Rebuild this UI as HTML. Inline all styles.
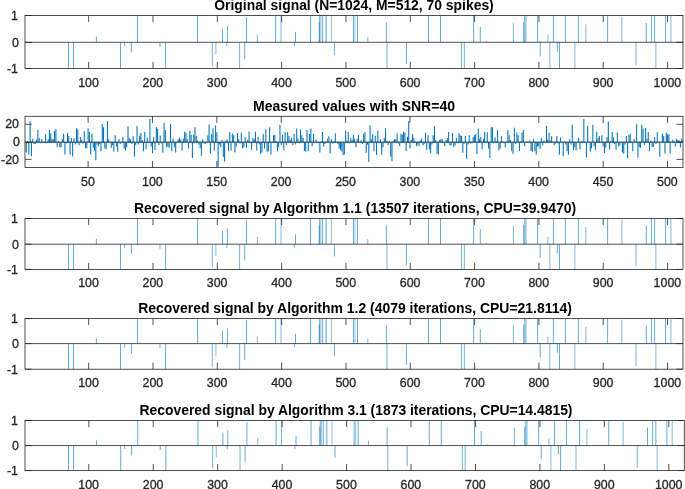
<!DOCTYPE html>
<html><head><meta charset="utf-8"><title>Signal recovery</title>
<style>
html,body{margin:0;padding:0;background:#fff;}
body{width:685px;height:489px;overflow:hidden;position:relative;font-family:"Liberation Sans",sans-serif;color:#262626;}
svg{position:absolute;left:0;top:0;}
.t,.x,.y{will-change:transform;}
.t{position:absolute;font-weight:bold;font-size:13.95px;line-height:16px;white-space:nowrap;color:#000;transform:translateX(-50%);}
.x{position:absolute;font-size:12.4px;line-height:14px;white-space:nowrap;transform:translate(-50%,-0.45px) scaleY(1.07);transform-origin:50% 100%;-webkit-text-stroke:0.3px #262626;}
.y{position:absolute;font-size:12.4px;line-height:14px;white-space:nowrap;text-align:right;width:30px;transform:scaleY(1.07);transform-origin:50% 50%;-webkit-text-stroke:0.3px #262626;}
</style></head><body>
<svg width="685" height="489" viewBox="0 0 685 489">
<g>
<line x1="68.50" y1="42.30" x2="68.50" y2="68.50" stroke="#0072BD" stroke-width="0.60"/>
<line x1="73.50" y1="42.30" x2="73.50" y2="68.50" stroke="#0072BD" stroke-width="0.60"/>
<line x1="96.40" y1="42.30" x2="96.40" y2="36.67" stroke="#0072BD" stroke-width="0.60"/>
<line x1="120.50" y1="42.30" x2="120.50" y2="68.50" stroke="#0072BD" stroke-width="0.60"/>
<line x1="124.50" y1="42.30" x2="124.50" y2="45.97" stroke="#0072BD" stroke-width="0.60"/>
<line x1="131.40" y1="42.30" x2="131.40" y2="52.52" stroke="#0072BD" stroke-width="0.60"/>
<line x1="137.50" y1="42.30" x2="137.50" y2="15.50" stroke="#0072BD" stroke-width="0.60"/>
<line x1="160.00" y1="42.30" x2="160.00" y2="47.02" stroke="#0072BD" stroke-width="0.60"/>
<line x1="165.60" y1="42.30" x2="165.60" y2="68.50" stroke="#0072BD" stroke-width="0.60"/>
<line x1="197.60" y1="42.30" x2="197.60" y2="15.50" stroke="#0072BD" stroke-width="0.60"/>
<line x1="212.30" y1="42.30" x2="212.30" y2="66.40" stroke="#0072BD" stroke-width="0.54"/>
<line x1="215.90" y1="42.30" x2="215.90" y2="54.74" stroke="#0072BD" stroke-width="0.48"/>
<line x1="222.50" y1="42.30" x2="222.50" y2="28.36" stroke="#0072BD" stroke-width="0.60"/>
<line x1="226.90" y1="42.30" x2="226.90" y2="46.23" stroke="#0072BD" stroke-width="0.57"/>
<line x1="227.40" y1="42.30" x2="227.40" y2="25.95" stroke="#0072BD" stroke-width="0.60"/>
<line x1="239.60" y1="42.30" x2="239.60" y2="68.50" stroke="#0072BD" stroke-width="0.54"/>
<line x1="244.70" y1="42.30" x2="244.70" y2="59.33" stroke="#0072BD" stroke-width="0.60"/>
<line x1="246.50" y1="42.30" x2="246.50" y2="17.11" stroke="#0072BD" stroke-width="0.60"/>
<line x1="257.30" y1="42.30" x2="257.30" y2="34.53" stroke="#0072BD" stroke-width="0.51"/>
<line x1="275.60" y1="42.30" x2="275.60" y2="15.50" stroke="#0072BD" stroke-width="0.60"/>
<line x1="281.00" y1="42.30" x2="281.00" y2="15.50" stroke="#0072BD" stroke-width="0.51"/>
<line x1="294.40" y1="42.30" x2="294.40" y2="45.97" stroke="#0072BD" stroke-width="0.60"/>
<line x1="295.50" y1="42.30" x2="295.50" y2="31.85" stroke="#0072BD" stroke-width="0.60"/>
<line x1="310.50" y1="42.30" x2="310.50" y2="15.50" stroke="#0072BD" stroke-width="0.60"/>
<line x1="319.20" y1="42.30" x2="319.20" y2="21.93" stroke="#0072BD" stroke-width="0.60"/>
<line x1="319.70" y1="42.30" x2="319.70" y2="15.50" stroke="#0072BD" stroke-width="0.60"/>
<line x1="320.90" y1="42.30" x2="320.90" y2="15.50" stroke="#0072BD" stroke-width="0.36"/>
<line x1="322.60" y1="42.30" x2="322.60" y2="15.50" stroke="#0072BD" stroke-width="0.60"/>
<line x1="325.70" y1="42.30" x2="325.70" y2="15.50" stroke="#0072BD" stroke-width="0.36"/>
<line x1="326.50" y1="42.30" x2="326.50" y2="15.50" stroke="#0072BD" stroke-width="0.36"/>
<line x1="331.40" y1="42.30" x2="331.40" y2="15.50" stroke="#0072BD" stroke-width="0.45"/>
<line x1="334.40" y1="42.30" x2="334.40" y2="55.14" stroke="#0072BD" stroke-width="0.60"/>
<line x1="353.50" y1="42.30" x2="353.50" y2="15.50" stroke="#0072BD" stroke-width="0.60"/>
<line x1="355.00" y1="42.30" x2="355.00" y2="15.50" stroke="#0072BD" stroke-width="0.42"/>
<line x1="357.50" y1="42.30" x2="357.50" y2="15.50" stroke="#0072BD" stroke-width="0.60"/>
<line x1="367.80" y1="42.30" x2="367.80" y2="36.94" stroke="#0072BD" stroke-width="0.51"/>
<line x1="386.40" y1="42.30" x2="386.40" y2="22.47" stroke="#0072BD" stroke-width="0.60"/>
<line x1="387.05" y1="42.30" x2="387.05" y2="68.50" stroke="#0072BD" stroke-width="0.54"/>
<line x1="406.40" y1="42.30" x2="406.40" y2="64.05" stroke="#0072BD" stroke-width="0.60"/>
<line x1="428.50" y1="42.30" x2="428.50" y2="15.50" stroke="#0072BD" stroke-width="0.60"/>
<line x1="440.50" y1="42.30" x2="440.50" y2="15.50" stroke="#0072BD" stroke-width="0.60"/>
<line x1="461.50" y1="42.30" x2="461.50" y2="68.50" stroke="#0072BD" stroke-width="0.54"/>
<line x1="464.30" y1="42.30" x2="464.30" y2="68.50" stroke="#0072BD" stroke-width="0.57"/>
<line x1="473.60" y1="42.30" x2="473.60" y2="15.50" stroke="#0072BD" stroke-width="0.60"/>
<line x1="480.30" y1="42.30" x2="480.30" y2="26.76" stroke="#0072BD" stroke-width="0.60"/>
<line x1="486.40" y1="42.30" x2="486.40" y2="40.96" stroke="#0072BD" stroke-width="0.60"/>
<line x1="513.40" y1="42.30" x2="513.40" y2="23.00" stroke="#0072BD" stroke-width="0.54"/>
<line x1="523.70" y1="42.30" x2="523.70" y2="21.93" stroke="#0072BD" stroke-width="0.60"/>
<line x1="524.80" y1="42.30" x2="524.80" y2="15.50" stroke="#0072BD" stroke-width="0.60"/>
<line x1="526.00" y1="42.30" x2="526.00" y2="15.50" stroke="#0072BD" stroke-width="0.51"/>
<line x1="537.60" y1="42.30" x2="537.60" y2="15.50" stroke="#0072BD" stroke-width="0.60"/>
<line x1="540.20" y1="42.30" x2="540.20" y2="56.45" stroke="#0072BD" stroke-width="0.60"/>
<line x1="547.90" y1="42.30" x2="547.90" y2="34.53" stroke="#0072BD" stroke-width="0.51"/>
<line x1="549.90" y1="42.30" x2="549.90" y2="68.50" stroke="#0072BD" stroke-width="0.51"/>
<line x1="553.40" y1="42.30" x2="553.40" y2="15.50" stroke="#0072BD" stroke-width="0.60"/>
<line x1="557.40" y1="42.30" x2="557.40" y2="51.73" stroke="#0072BD" stroke-width="0.60"/>
<line x1="559.50" y1="42.30" x2="559.50" y2="68.50" stroke="#0072BD" stroke-width="0.60"/>
<line x1="565.40" y1="42.30" x2="565.40" y2="15.50" stroke="#0072BD" stroke-width="0.60"/>
<line x1="574.90" y1="42.30" x2="574.90" y2="68.50" stroke="#0072BD" stroke-width="0.51"/>
<line x1="578.40" y1="42.30" x2="578.40" y2="15.50" stroke="#0072BD" stroke-width="0.60"/>
<line x1="585.80" y1="42.30" x2="585.80" y2="24.34" stroke="#0072BD" stroke-width="0.51"/>
<line x1="607.60" y1="42.30" x2="607.60" y2="15.50" stroke="#0072BD" stroke-width="0.60"/>
<line x1="621.90" y1="42.30" x2="621.90" y2="16.84" stroke="#0072BD" stroke-width="0.51"/>
<line x1="636.00" y1="42.30" x2="636.00" y2="65.36" stroke="#0072BD" stroke-width="0.54"/>
<line x1="646.30" y1="42.30" x2="646.30" y2="23.00" stroke="#0072BD" stroke-width="0.60"/>
<line x1="651.40" y1="42.30" x2="651.40" y2="15.50" stroke="#0072BD" stroke-width="0.60"/>
<line x1="654.60" y1="42.30" x2="654.60" y2="15.50" stroke="#0072BD" stroke-width="0.60"/>
<line x1="655.90" y1="42.30" x2="655.90" y2="68.50" stroke="#0072BD" stroke-width="0.51"/>
<line x1="665.60" y1="42.30" x2="665.60" y2="15.50" stroke="#0072BD" stroke-width="0.60"/>
<line x1="670.90" y1="42.30" x2="670.90" y2="15.50" stroke="#0072BD" stroke-width="0.51"/>
</g>
<g>
<line x1="68.50" y1="244.20" x2="68.50" y2="269.40" stroke="#0072BD" stroke-width="0.60"/>
<line x1="73.50" y1="244.20" x2="73.50" y2="269.40" stroke="#0072BD" stroke-width="0.60"/>
<line x1="96.40" y1="244.20" x2="96.40" y2="238.80" stroke="#0072BD" stroke-width="0.60"/>
<line x1="120.50" y1="244.20" x2="120.50" y2="269.40" stroke="#0072BD" stroke-width="0.60"/>
<line x1="124.50" y1="244.20" x2="124.50" y2="247.73" stroke="#0072BD" stroke-width="0.60"/>
<line x1="131.40" y1="244.20" x2="131.40" y2="254.03" stroke="#0072BD" stroke-width="0.60"/>
<line x1="137.50" y1="244.20" x2="137.50" y2="218.50" stroke="#0072BD" stroke-width="0.60"/>
<line x1="160.00" y1="244.20" x2="160.00" y2="248.74" stroke="#0072BD" stroke-width="0.60"/>
<line x1="165.60" y1="244.20" x2="165.60" y2="269.40" stroke="#0072BD" stroke-width="0.60"/>
<line x1="197.60" y1="244.20" x2="197.60" y2="218.50" stroke="#0072BD" stroke-width="0.60"/>
<line x1="212.30" y1="244.20" x2="212.30" y2="267.38" stroke="#0072BD" stroke-width="0.54"/>
<line x1="215.90" y1="244.20" x2="215.90" y2="256.17" stroke="#0072BD" stroke-width="0.48"/>
<line x1="222.50" y1="244.20" x2="222.50" y2="230.84" stroke="#0072BD" stroke-width="0.60"/>
<line x1="226.90" y1="244.20" x2="226.90" y2="247.98" stroke="#0072BD" stroke-width="0.57"/>
<line x1="227.40" y1="244.20" x2="227.40" y2="228.52" stroke="#0072BD" stroke-width="0.60"/>
<line x1="239.60" y1="244.20" x2="239.60" y2="269.40" stroke="#0072BD" stroke-width="0.54"/>
<line x1="244.70" y1="244.20" x2="244.70" y2="260.58" stroke="#0072BD" stroke-width="0.60"/>
<line x1="246.50" y1="244.20" x2="246.50" y2="220.04" stroke="#0072BD" stroke-width="0.60"/>
<line x1="257.30" y1="244.20" x2="257.30" y2="236.75" stroke="#0072BD" stroke-width="0.51"/>
<line x1="275.60" y1="244.20" x2="275.60" y2="218.50" stroke="#0072BD" stroke-width="0.60"/>
<line x1="281.00" y1="244.20" x2="281.00" y2="218.50" stroke="#0072BD" stroke-width="0.51"/>
<line x1="294.40" y1="244.20" x2="294.40" y2="247.73" stroke="#0072BD" stroke-width="0.60"/>
<line x1="295.50" y1="244.20" x2="295.50" y2="234.18" stroke="#0072BD" stroke-width="0.60"/>
<line x1="310.50" y1="244.20" x2="310.50" y2="218.50" stroke="#0072BD" stroke-width="0.60"/>
<line x1="319.20" y1="244.20" x2="319.20" y2="224.67" stroke="#0072BD" stroke-width="0.60"/>
<line x1="319.70" y1="244.20" x2="319.70" y2="218.50" stroke="#0072BD" stroke-width="0.60"/>
<line x1="320.90" y1="244.20" x2="320.90" y2="218.50" stroke="#0072BD" stroke-width="0.36"/>
<line x1="322.60" y1="244.20" x2="322.60" y2="218.50" stroke="#0072BD" stroke-width="0.60"/>
<line x1="325.70" y1="244.20" x2="325.70" y2="218.50" stroke="#0072BD" stroke-width="0.36"/>
<line x1="326.50" y1="244.20" x2="326.50" y2="218.50" stroke="#0072BD" stroke-width="0.36"/>
<line x1="331.40" y1="244.20" x2="331.40" y2="218.50" stroke="#0072BD" stroke-width="0.45"/>
<line x1="334.40" y1="244.20" x2="334.40" y2="256.55" stroke="#0072BD" stroke-width="0.60"/>
<line x1="353.50" y1="244.20" x2="353.50" y2="218.50" stroke="#0072BD" stroke-width="0.60"/>
<line x1="355.00" y1="244.20" x2="355.00" y2="218.50" stroke="#0072BD" stroke-width="0.42"/>
<line x1="357.50" y1="244.20" x2="357.50" y2="218.50" stroke="#0072BD" stroke-width="0.60"/>
<line x1="367.80" y1="244.20" x2="367.80" y2="239.06" stroke="#0072BD" stroke-width="0.51"/>
<line x1="386.40" y1="244.20" x2="386.40" y2="225.18" stroke="#0072BD" stroke-width="0.60"/>
<line x1="387.05" y1="244.20" x2="387.05" y2="269.40" stroke="#0072BD" stroke-width="0.54"/>
<line x1="406.40" y1="244.20" x2="406.40" y2="265.12" stroke="#0072BD" stroke-width="0.60"/>
<line x1="428.50" y1="244.20" x2="428.50" y2="218.50" stroke="#0072BD" stroke-width="0.60"/>
<line x1="440.50" y1="244.20" x2="440.50" y2="218.50" stroke="#0072BD" stroke-width="0.60"/>
<line x1="461.50" y1="244.20" x2="461.50" y2="269.40" stroke="#0072BD" stroke-width="0.54"/>
<line x1="464.30" y1="244.20" x2="464.30" y2="269.40" stroke="#0072BD" stroke-width="0.57"/>
<line x1="473.60" y1="244.20" x2="473.60" y2="218.50" stroke="#0072BD" stroke-width="0.60"/>
<line x1="480.30" y1="244.20" x2="480.30" y2="229.29" stroke="#0072BD" stroke-width="0.60"/>
<line x1="486.40" y1="244.20" x2="486.40" y2="242.91" stroke="#0072BD" stroke-width="0.60"/>
<line x1="513.40" y1="244.20" x2="513.40" y2="225.70" stroke="#0072BD" stroke-width="0.54"/>
<line x1="523.70" y1="244.20" x2="523.70" y2="224.67" stroke="#0072BD" stroke-width="0.60"/>
<line x1="524.80" y1="244.20" x2="524.80" y2="218.50" stroke="#0072BD" stroke-width="0.60"/>
<line x1="526.00" y1="244.20" x2="526.00" y2="218.50" stroke="#0072BD" stroke-width="0.51"/>
<line x1="537.60" y1="244.20" x2="537.60" y2="218.50" stroke="#0072BD" stroke-width="0.60"/>
<line x1="540.20" y1="244.20" x2="540.20" y2="257.81" stroke="#0072BD" stroke-width="0.60"/>
<line x1="547.90" y1="244.20" x2="547.90" y2="236.75" stroke="#0072BD" stroke-width="0.51"/>
<line x1="549.90" y1="244.20" x2="549.90" y2="269.40" stroke="#0072BD" stroke-width="0.51"/>
<line x1="553.40" y1="244.20" x2="553.40" y2="218.50" stroke="#0072BD" stroke-width="0.60"/>
<line x1="557.40" y1="244.20" x2="557.40" y2="253.27" stroke="#0072BD" stroke-width="0.60"/>
<line x1="559.50" y1="244.20" x2="559.50" y2="269.40" stroke="#0072BD" stroke-width="0.60"/>
<line x1="565.40" y1="244.20" x2="565.40" y2="218.50" stroke="#0072BD" stroke-width="0.60"/>
<line x1="574.90" y1="244.20" x2="574.90" y2="269.40" stroke="#0072BD" stroke-width="0.51"/>
<line x1="578.40" y1="244.20" x2="578.40" y2="218.50" stroke="#0072BD" stroke-width="0.60"/>
<line x1="585.80" y1="244.20" x2="585.80" y2="226.98" stroke="#0072BD" stroke-width="0.51"/>
<line x1="607.60" y1="244.20" x2="607.60" y2="218.50" stroke="#0072BD" stroke-width="0.60"/>
<line x1="621.90" y1="244.20" x2="621.90" y2="219.78" stroke="#0072BD" stroke-width="0.51"/>
<line x1="636.00" y1="244.20" x2="636.00" y2="266.38" stroke="#0072BD" stroke-width="0.54"/>
<line x1="646.30" y1="244.20" x2="646.30" y2="225.70" stroke="#0072BD" stroke-width="0.60"/>
<line x1="651.40" y1="244.20" x2="651.40" y2="218.50" stroke="#0072BD" stroke-width="0.60"/>
<line x1="654.60" y1="244.20" x2="654.60" y2="218.50" stroke="#0072BD" stroke-width="0.60"/>
<line x1="655.90" y1="244.20" x2="655.90" y2="269.40" stroke="#0072BD" stroke-width="0.51"/>
<line x1="665.60" y1="244.20" x2="665.60" y2="218.50" stroke="#0072BD" stroke-width="0.60"/>
<line x1="670.90" y1="244.20" x2="670.90" y2="218.50" stroke="#0072BD" stroke-width="0.51"/>
</g>
<g>
<line x1="68.50" y1="343.60" x2="68.50" y2="369.20" stroke="#0072BD" stroke-width="0.60"/>
<line x1="73.50" y1="343.60" x2="73.50" y2="369.20" stroke="#0072BD" stroke-width="0.60"/>
<line x1="96.40" y1="343.60" x2="96.40" y2="338.33" stroke="#0072BD" stroke-width="0.60"/>
<line x1="120.50" y1="343.60" x2="120.50" y2="369.20" stroke="#0072BD" stroke-width="0.60"/>
<line x1="124.50" y1="343.60" x2="124.50" y2="347.18" stroke="#0072BD" stroke-width="0.60"/>
<line x1="131.40" y1="343.60" x2="131.40" y2="353.58" stroke="#0072BD" stroke-width="0.60"/>
<line x1="137.50" y1="343.60" x2="137.50" y2="318.50" stroke="#0072BD" stroke-width="0.60"/>
<line x1="160.00" y1="343.60" x2="160.00" y2="348.21" stroke="#0072BD" stroke-width="0.60"/>
<line x1="165.60" y1="343.60" x2="165.60" y2="369.20" stroke="#0072BD" stroke-width="0.60"/>
<line x1="197.60" y1="343.60" x2="197.60" y2="318.50" stroke="#0072BD" stroke-width="0.60"/>
<line x1="212.30" y1="343.60" x2="212.30" y2="367.15" stroke="#0072BD" stroke-width="0.54"/>
<line x1="215.90" y1="343.60" x2="215.90" y2="355.76" stroke="#0072BD" stroke-width="0.48"/>
<line x1="222.50" y1="343.60" x2="222.50" y2="330.55" stroke="#0072BD" stroke-width="0.60"/>
<line x1="226.90" y1="343.60" x2="226.90" y2="347.44" stroke="#0072BD" stroke-width="0.57"/>
<line x1="227.40" y1="343.60" x2="227.40" y2="328.29" stroke="#0072BD" stroke-width="0.60"/>
<line x1="239.60" y1="343.60" x2="239.60" y2="369.20" stroke="#0072BD" stroke-width="0.54"/>
<line x1="244.70" y1="343.60" x2="244.70" y2="360.24" stroke="#0072BD" stroke-width="0.60"/>
<line x1="246.50" y1="343.60" x2="246.50" y2="320.01" stroke="#0072BD" stroke-width="0.60"/>
<line x1="257.30" y1="343.60" x2="257.30" y2="336.32" stroke="#0072BD" stroke-width="0.51"/>
<line x1="275.60" y1="343.60" x2="275.60" y2="318.50" stroke="#0072BD" stroke-width="0.60"/>
<line x1="281.00" y1="343.60" x2="281.00" y2="318.50" stroke="#0072BD" stroke-width="0.51"/>
<line x1="294.40" y1="343.60" x2="294.40" y2="347.18" stroke="#0072BD" stroke-width="0.60"/>
<line x1="295.50" y1="343.60" x2="295.50" y2="333.81" stroke="#0072BD" stroke-width="0.60"/>
<line x1="310.50" y1="343.60" x2="310.50" y2="318.50" stroke="#0072BD" stroke-width="0.60"/>
<line x1="319.20" y1="343.60" x2="319.20" y2="324.52" stroke="#0072BD" stroke-width="0.60"/>
<line x1="319.70" y1="343.60" x2="319.70" y2="318.50" stroke="#0072BD" stroke-width="0.60"/>
<line x1="320.90" y1="343.60" x2="320.90" y2="318.50" stroke="#0072BD" stroke-width="0.36"/>
<line x1="322.60" y1="343.60" x2="322.60" y2="318.50" stroke="#0072BD" stroke-width="0.60"/>
<line x1="325.70" y1="343.60" x2="325.70" y2="318.50" stroke="#0072BD" stroke-width="0.36"/>
<line x1="326.50" y1="343.60" x2="326.50" y2="318.50" stroke="#0072BD" stroke-width="0.36"/>
<line x1="331.40" y1="343.60" x2="331.40" y2="318.50" stroke="#0072BD" stroke-width="0.45"/>
<line x1="334.40" y1="343.60" x2="334.40" y2="356.14" stroke="#0072BD" stroke-width="0.60"/>
<line x1="353.50" y1="343.60" x2="353.50" y2="318.50" stroke="#0072BD" stroke-width="0.60"/>
<line x1="355.00" y1="343.60" x2="355.00" y2="318.50" stroke="#0072BD" stroke-width="0.42"/>
<line x1="357.50" y1="343.60" x2="357.50" y2="318.50" stroke="#0072BD" stroke-width="0.60"/>
<line x1="367.80" y1="343.60" x2="367.80" y2="338.58" stroke="#0072BD" stroke-width="0.51"/>
<line x1="386.40" y1="343.60" x2="386.40" y2="325.03" stroke="#0072BD" stroke-width="0.60"/>
<line x1="387.05" y1="343.60" x2="387.05" y2="369.20" stroke="#0072BD" stroke-width="0.54"/>
<line x1="406.40" y1="343.60" x2="406.40" y2="364.85" stroke="#0072BD" stroke-width="0.60"/>
<line x1="428.50" y1="343.60" x2="428.50" y2="318.50" stroke="#0072BD" stroke-width="0.60"/>
<line x1="440.50" y1="343.60" x2="440.50" y2="318.50" stroke="#0072BD" stroke-width="0.60"/>
<line x1="461.50" y1="343.60" x2="461.50" y2="369.20" stroke="#0072BD" stroke-width="0.54"/>
<line x1="464.30" y1="343.60" x2="464.30" y2="369.20" stroke="#0072BD" stroke-width="0.57"/>
<line x1="473.60" y1="343.60" x2="473.60" y2="318.50" stroke="#0072BD" stroke-width="0.60"/>
<line x1="480.30" y1="343.60" x2="480.30" y2="329.04" stroke="#0072BD" stroke-width="0.60"/>
<line x1="486.40" y1="343.60" x2="486.40" y2="342.35" stroke="#0072BD" stroke-width="0.60"/>
<line x1="513.40" y1="343.60" x2="513.40" y2="325.53" stroke="#0072BD" stroke-width="0.54"/>
<line x1="523.70" y1="343.60" x2="523.70" y2="324.52" stroke="#0072BD" stroke-width="0.60"/>
<line x1="524.80" y1="343.60" x2="524.80" y2="318.50" stroke="#0072BD" stroke-width="0.60"/>
<line x1="526.00" y1="343.60" x2="526.00" y2="318.50" stroke="#0072BD" stroke-width="0.51"/>
<line x1="537.60" y1="343.60" x2="537.60" y2="318.50" stroke="#0072BD" stroke-width="0.60"/>
<line x1="540.20" y1="343.60" x2="540.20" y2="357.42" stroke="#0072BD" stroke-width="0.60"/>
<line x1="547.90" y1="343.60" x2="547.90" y2="336.32" stroke="#0072BD" stroke-width="0.51"/>
<line x1="549.90" y1="343.60" x2="549.90" y2="369.20" stroke="#0072BD" stroke-width="0.51"/>
<line x1="553.40" y1="343.60" x2="553.40" y2="318.50" stroke="#0072BD" stroke-width="0.60"/>
<line x1="557.40" y1="343.60" x2="557.40" y2="352.82" stroke="#0072BD" stroke-width="0.60"/>
<line x1="559.50" y1="343.60" x2="559.50" y2="369.20" stroke="#0072BD" stroke-width="0.60"/>
<line x1="565.40" y1="343.60" x2="565.40" y2="318.50" stroke="#0072BD" stroke-width="0.60"/>
<line x1="574.90" y1="343.60" x2="574.90" y2="369.20" stroke="#0072BD" stroke-width="0.51"/>
<line x1="578.40" y1="343.60" x2="578.40" y2="318.50" stroke="#0072BD" stroke-width="0.60"/>
<line x1="585.80" y1="343.60" x2="585.80" y2="326.78" stroke="#0072BD" stroke-width="0.51"/>
<line x1="607.60" y1="343.60" x2="607.60" y2="318.50" stroke="#0072BD" stroke-width="0.60"/>
<line x1="621.90" y1="343.60" x2="621.90" y2="319.75" stroke="#0072BD" stroke-width="0.51"/>
<line x1="636.00" y1="343.60" x2="636.00" y2="366.13" stroke="#0072BD" stroke-width="0.54"/>
<line x1="646.30" y1="343.60" x2="646.30" y2="325.53" stroke="#0072BD" stroke-width="0.60"/>
<line x1="651.40" y1="343.60" x2="651.40" y2="318.50" stroke="#0072BD" stroke-width="0.60"/>
<line x1="654.60" y1="343.60" x2="654.60" y2="318.50" stroke="#0072BD" stroke-width="0.60"/>
<line x1="655.90" y1="343.60" x2="655.90" y2="369.20" stroke="#0072BD" stroke-width="0.51"/>
<line x1="665.60" y1="343.60" x2="665.60" y2="318.50" stroke="#0072BD" stroke-width="0.60"/>
<line x1="670.90" y1="343.60" x2="670.90" y2="318.50" stroke="#0072BD" stroke-width="0.51"/>
</g>
<g>
<line x1="68.59" y1="445.55" x2="68.59" y2="470.60" stroke="#0072BD" stroke-width="0.60"/>
<line x1="73.60" y1="445.55" x2="73.60" y2="470.60" stroke="#0072BD" stroke-width="0.60"/>
<line x1="96.54" y1="445.55" x2="96.54" y2="440.29" stroke="#0072BD" stroke-width="0.60"/>
<line x1="120.69" y1="445.55" x2="120.69" y2="470.60" stroke="#0072BD" stroke-width="0.60"/>
<line x1="124.70" y1="445.55" x2="124.70" y2="449.06" stroke="#0072BD" stroke-width="0.60"/>
<line x1="131.61" y1="445.55" x2="131.61" y2="455.32" stroke="#0072BD" stroke-width="0.60"/>
<line x1="137.72" y1="445.55" x2="137.72" y2="420.50" stroke="#0072BD" stroke-width="0.60"/>
<line x1="160.27" y1="445.55" x2="160.27" y2="450.06" stroke="#0072BD" stroke-width="0.60"/>
<line x1="165.88" y1="445.55" x2="165.88" y2="470.60" stroke="#0072BD" stroke-width="0.60"/>
<line x1="197.94" y1="445.55" x2="197.94" y2="420.50" stroke="#0072BD" stroke-width="0.60"/>
<line x1="212.67" y1="445.55" x2="212.67" y2="468.60" stroke="#0072BD" stroke-width="0.54"/>
<line x1="216.28" y1="445.55" x2="216.28" y2="457.45" stroke="#0072BD" stroke-width="0.48"/>
<line x1="222.89" y1="445.55" x2="222.89" y2="432.52" stroke="#0072BD" stroke-width="0.60"/>
<line x1="227.30" y1="445.55" x2="227.30" y2="449.31" stroke="#0072BD" stroke-width="0.57"/>
<line x1="227.80" y1="445.55" x2="227.80" y2="430.27" stroke="#0072BD" stroke-width="0.60"/>
<line x1="240.02" y1="445.55" x2="240.02" y2="470.60" stroke="#0072BD" stroke-width="0.54"/>
<line x1="245.13" y1="445.55" x2="245.13" y2="461.83" stroke="#0072BD" stroke-width="0.60"/>
<line x1="246.94" y1="445.55" x2="246.94" y2="422.00" stroke="#0072BD" stroke-width="0.60"/>
<line x1="257.76" y1="445.55" x2="257.76" y2="438.29" stroke="#0072BD" stroke-width="0.51"/>
<line x1="276.10" y1="445.55" x2="276.10" y2="420.50" stroke="#0072BD" stroke-width="0.60"/>
<line x1="281.51" y1="445.55" x2="281.51" y2="420.50" stroke="#0072BD" stroke-width="0.51"/>
<line x1="294.93" y1="445.55" x2="294.93" y2="449.06" stroke="#0072BD" stroke-width="0.60"/>
<line x1="296.03" y1="445.55" x2="296.03" y2="435.78" stroke="#0072BD" stroke-width="0.60"/>
<line x1="311.06" y1="445.55" x2="311.06" y2="420.50" stroke="#0072BD" stroke-width="0.60"/>
<line x1="319.78" y1="445.55" x2="319.78" y2="426.51" stroke="#0072BD" stroke-width="0.60"/>
<line x1="320.28" y1="445.55" x2="320.28" y2="420.50" stroke="#0072BD" stroke-width="0.60"/>
<line x1="321.48" y1="445.55" x2="321.48" y2="420.50" stroke="#0072BD" stroke-width="0.36"/>
<line x1="323.19" y1="445.55" x2="323.19" y2="420.50" stroke="#0072BD" stroke-width="0.60"/>
<line x1="326.29" y1="445.55" x2="326.29" y2="420.50" stroke="#0072BD" stroke-width="0.36"/>
<line x1="327.10" y1="445.55" x2="327.10" y2="420.50" stroke="#0072BD" stroke-width="0.36"/>
<line x1="332.01" y1="445.55" x2="332.01" y2="420.50" stroke="#0072BD" stroke-width="0.45"/>
<line x1="335.01" y1="445.55" x2="335.01" y2="457.82" stroke="#0072BD" stroke-width="0.60"/>
<line x1="354.15" y1="445.55" x2="354.15" y2="420.50" stroke="#0072BD" stroke-width="0.60"/>
<line x1="355.65" y1="445.55" x2="355.65" y2="420.50" stroke="#0072BD" stroke-width="0.42"/>
<line x1="358.16" y1="445.55" x2="358.16" y2="420.50" stroke="#0072BD" stroke-width="0.60"/>
<line x1="368.48" y1="445.55" x2="368.48" y2="440.54" stroke="#0072BD" stroke-width="0.51"/>
<line x1="387.11" y1="445.55" x2="387.11" y2="427.01" stroke="#0072BD" stroke-width="0.60"/>
<line x1="387.77" y1="445.55" x2="387.77" y2="470.60" stroke="#0072BD" stroke-width="0.54"/>
<line x1="407.15" y1="445.55" x2="407.15" y2="466.34" stroke="#0072BD" stroke-width="0.60"/>
<line x1="429.30" y1="445.55" x2="429.30" y2="420.50" stroke="#0072BD" stroke-width="0.60"/>
<line x1="441.32" y1="445.55" x2="441.32" y2="420.50" stroke="#0072BD" stroke-width="0.60"/>
<line x1="462.36" y1="445.55" x2="462.36" y2="470.60" stroke="#0072BD" stroke-width="0.54"/>
<line x1="465.17" y1="445.55" x2="465.17" y2="470.60" stroke="#0072BD" stroke-width="0.57"/>
<line x1="474.49" y1="445.55" x2="474.49" y2="420.50" stroke="#0072BD" stroke-width="0.60"/>
<line x1="481.20" y1="445.55" x2="481.20" y2="431.02" stroke="#0072BD" stroke-width="0.60"/>
<line x1="487.31" y1="445.55" x2="487.31" y2="444.30" stroke="#0072BD" stroke-width="0.60"/>
<line x1="514.36" y1="445.55" x2="514.36" y2="427.51" stroke="#0072BD" stroke-width="0.54"/>
<line x1="524.69" y1="445.55" x2="524.69" y2="426.51" stroke="#0072BD" stroke-width="0.60"/>
<line x1="525.79" y1="445.55" x2="525.79" y2="420.50" stroke="#0072BD" stroke-width="0.60"/>
<line x1="526.99" y1="445.55" x2="526.99" y2="420.50" stroke="#0072BD" stroke-width="0.51"/>
<line x1="538.61" y1="445.55" x2="538.61" y2="420.50" stroke="#0072BD" stroke-width="0.60"/>
<line x1="541.22" y1="445.55" x2="541.22" y2="459.08" stroke="#0072BD" stroke-width="0.60"/>
<line x1="548.93" y1="445.55" x2="548.93" y2="438.29" stroke="#0072BD" stroke-width="0.51"/>
<line x1="550.94" y1="445.55" x2="550.94" y2="470.60" stroke="#0072BD" stroke-width="0.51"/>
<line x1="554.44" y1="445.55" x2="554.44" y2="420.50" stroke="#0072BD" stroke-width="0.60"/>
<line x1="558.45" y1="445.55" x2="558.45" y2="454.57" stroke="#0072BD" stroke-width="0.60"/>
<line x1="560.56" y1="445.55" x2="560.56" y2="470.60" stroke="#0072BD" stroke-width="0.60"/>
<line x1="566.47" y1="445.55" x2="566.47" y2="420.50" stroke="#0072BD" stroke-width="0.60"/>
<line x1="575.99" y1="445.55" x2="575.99" y2="470.60" stroke="#0072BD" stroke-width="0.51"/>
<line x1="579.49" y1="445.55" x2="579.49" y2="420.50" stroke="#0072BD" stroke-width="0.60"/>
<line x1="586.91" y1="445.55" x2="586.91" y2="428.77" stroke="#0072BD" stroke-width="0.51"/>
<line x1="608.75" y1="445.55" x2="608.75" y2="420.50" stroke="#0072BD" stroke-width="0.60"/>
<line x1="623.08" y1="445.55" x2="623.08" y2="421.75" stroke="#0072BD" stroke-width="0.51"/>
<line x1="637.21" y1="445.55" x2="637.21" y2="467.59" stroke="#0072BD" stroke-width="0.54"/>
<line x1="647.53" y1="445.55" x2="647.53" y2="427.51" stroke="#0072BD" stroke-width="0.60"/>
<line x1="652.64" y1="445.55" x2="652.64" y2="420.50" stroke="#0072BD" stroke-width="0.60"/>
<line x1="655.84" y1="445.55" x2="655.84" y2="420.50" stroke="#0072BD" stroke-width="0.60"/>
<line x1="657.15" y1="445.55" x2="657.15" y2="470.60" stroke="#0072BD" stroke-width="0.51"/>
<line x1="666.87" y1="445.55" x2="666.87" y2="420.50" stroke="#0072BD" stroke-width="0.60"/>
<line x1="672.18" y1="445.55" x2="672.18" y2="420.50" stroke="#0072BD" stroke-width="0.51"/>
</g>
<g>
<line x1="25.00" y1="142.20" x2="683.00" y2="142.20" stroke="#262626" stroke-width="0.80"/>
<line x1="25.00" y1="142.20" x2="25.00" y2="142.69" stroke="#0072BD" stroke-width="1.05"/>
<line x1="26.29" y1="142.20" x2="26.29" y2="152.47" stroke="#0072BD" stroke-width="1.05"/>
<line x1="27.58" y1="142.20" x2="27.58" y2="140.88" stroke="#0072BD" stroke-width="1.05"/>
<line x1="28.86" y1="142.20" x2="28.86" y2="154.84" stroke="#0072BD" stroke-width="1.05"/>
<line x1="30.15" y1="142.20" x2="30.15" y2="121.14" stroke="#0072BD" stroke-width="1.05"/>
<line x1="31.44" y1="142.20" x2="31.44" y2="156.15" stroke="#0072BD" stroke-width="1.05"/>
<line x1="32.73" y1="142.20" x2="32.73" y2="138.69" stroke="#0072BD" stroke-width="1.05"/>
<line x1="34.01" y1="142.20" x2="34.01" y2="143.95" stroke="#0072BD" stroke-width="1.05"/>
<line x1="35.30" y1="142.20" x2="35.30" y2="143.95" stroke="#0072BD" stroke-width="1.05"/>
<line x1="36.59" y1="142.20" x2="36.59" y2="139.57" stroke="#0072BD" stroke-width="1.05"/>
<line x1="37.88" y1="142.20" x2="37.88" y2="130.09" stroke="#0072BD" stroke-width="1.05"/>
<line x1="39.16" y1="142.20" x2="39.16" y2="137.99" stroke="#0072BD" stroke-width="1.05"/>
<line x1="40.45" y1="142.20" x2="40.45" y2="143.18" stroke="#0072BD" stroke-width="1.05"/>
<line x1="41.74" y1="142.20" x2="41.74" y2="139.04" stroke="#0072BD" stroke-width="1.05"/>
<line x1="43.03" y1="142.20" x2="43.03" y2="143.25" stroke="#0072BD" stroke-width="1.05"/>
<line x1="44.32" y1="142.20" x2="44.32" y2="141.78" stroke="#0072BD" stroke-width="1.05"/>
<line x1="45.60" y1="142.20" x2="45.60" y2="134.30" stroke="#0072BD" stroke-width="1.05"/>
<line x1="46.89" y1="142.20" x2="46.89" y2="143.25" stroke="#0072BD" stroke-width="1.05"/>
<line x1="48.18" y1="142.20" x2="48.18" y2="139.30" stroke="#0072BD" stroke-width="1.05"/>
<line x1="49.47" y1="142.20" x2="49.47" y2="130.09" stroke="#0072BD" stroke-width="1.05"/>
<line x1="50.75" y1="142.20" x2="50.75" y2="133.42" stroke="#0072BD" stroke-width="1.05"/>
<line x1="52.04" y1="142.20" x2="52.04" y2="138.69" stroke="#0072BD" stroke-width="1.05"/>
<line x1="53.33" y1="142.20" x2="53.33" y2="139.30" stroke="#0072BD" stroke-width="1.05"/>
<line x1="54.62" y1="142.20" x2="54.62" y2="130.79" stroke="#0072BD" stroke-width="1.05"/>
<line x1="55.90" y1="142.20" x2="55.90" y2="129.21" stroke="#0072BD" stroke-width="1.05"/>
<line x1="57.19" y1="142.20" x2="57.19" y2="146.94" stroke="#0072BD" stroke-width="1.05"/>
<line x1="58.48" y1="142.20" x2="58.48" y2="141.32" stroke="#0072BD" stroke-width="1.05"/>
<line x1="59.77" y1="142.20" x2="59.77" y2="147.20" stroke="#0072BD" stroke-width="1.05"/>
<line x1="61.05" y1="142.20" x2="61.05" y2="147.20" stroke="#0072BD" stroke-width="1.05"/>
<line x1="62.34" y1="142.20" x2="62.34" y2="139.04" stroke="#0072BD" stroke-width="1.05"/>
<line x1="63.63" y1="142.20" x2="63.63" y2="133.78" stroke="#0072BD" stroke-width="1.05"/>
<line x1="64.92" y1="142.20" x2="64.92" y2="154.40" stroke="#0072BD" stroke-width="1.05"/>
<line x1="66.21" y1="142.20" x2="66.21" y2="143.40" stroke="#0072BD" stroke-width="1.05"/>
<line x1="67.49" y1="142.20" x2="67.49" y2="133.16" stroke="#0072BD" stroke-width="1.05"/>
<line x1="68.78" y1="142.20" x2="68.78" y2="136.06" stroke="#0072BD" stroke-width="1.05"/>
<line x1="70.07" y1="142.20" x2="70.07" y2="154.40" stroke="#0072BD" stroke-width="1.05"/>
<line x1="71.36" y1="142.20" x2="71.36" y2="137.99" stroke="#0072BD" stroke-width="1.05"/>
<line x1="72.64" y1="142.20" x2="72.64" y2="156.42" stroke="#0072BD" stroke-width="1.05"/>
<line x1="73.93" y1="142.20" x2="73.93" y2="137.99" stroke="#0072BD" stroke-width="1.05"/>
<line x1="75.22" y1="142.20" x2="75.22" y2="144.57" stroke="#0072BD" stroke-width="1.05"/>
<line x1="76.51" y1="142.20" x2="76.51" y2="128.16" stroke="#0072BD" stroke-width="1.05"/>
<line x1="77.79" y1="142.20" x2="77.79" y2="129.48" stroke="#0072BD" stroke-width="1.05"/>
<line x1="79.08" y1="142.20" x2="79.08" y2="145.18" stroke="#0072BD" stroke-width="1.05"/>
<line x1="80.37" y1="142.20" x2="80.37" y2="136.94" stroke="#0072BD" stroke-width="1.05"/>
<line x1="81.66" y1="142.20" x2="81.66" y2="139.74" stroke="#0072BD" stroke-width="1.05"/>
<line x1="82.95" y1="142.20" x2="82.95" y2="143.52" stroke="#0072BD" stroke-width="1.05"/>
<line x1="84.23" y1="142.20" x2="84.23" y2="131.06" stroke="#0072BD" stroke-width="1.05"/>
<line x1="85.52" y1="142.20" x2="85.52" y2="148.25" stroke="#0072BD" stroke-width="1.05"/>
<line x1="86.81" y1="142.20" x2="86.81" y2="148.25" stroke="#0072BD" stroke-width="1.05"/>
<line x1="88.10" y1="142.20" x2="88.10" y2="128.16" stroke="#0072BD" stroke-width="1.05"/>
<line x1="89.38" y1="142.20" x2="89.38" y2="132.11" stroke="#0072BD" stroke-width="1.05"/>
<line x1="90.67" y1="142.20" x2="90.67" y2="154.40" stroke="#0072BD" stroke-width="1.05"/>
<line x1="91.96" y1="142.20" x2="91.96" y2="133.42" stroke="#0072BD" stroke-width="1.05"/>
<line x1="93.25" y1="142.20" x2="93.25" y2="147.82" stroke="#0072BD" stroke-width="1.05"/>
<line x1="94.53" y1="142.20" x2="94.53" y2="150.45" stroke="#0072BD" stroke-width="1.05"/>
<line x1="95.82" y1="142.20" x2="95.82" y2="160.36" stroke="#0072BD" stroke-width="1.05"/>
<line x1="97.11" y1="142.20" x2="97.11" y2="144.57" stroke="#0072BD" stroke-width="1.05"/>
<line x1="98.40" y1="142.20" x2="98.40" y2="146.59" stroke="#0072BD" stroke-width="1.05"/>
<line x1="99.68" y1="142.20" x2="99.68" y2="143.95" stroke="#0072BD" stroke-width="1.05"/>
<line x1="100.97" y1="142.20" x2="100.97" y2="151.15" stroke="#0072BD" stroke-width="1.05"/>
<line x1="102.26" y1="142.20" x2="102.26" y2="123.95" stroke="#0072BD" stroke-width="1.05"/>
<line x1="103.55" y1="142.20" x2="103.55" y2="127.28" stroke="#0072BD" stroke-width="1.05"/>
<line x1="104.84" y1="142.20" x2="104.84" y2="148.52" stroke="#0072BD" stroke-width="1.05"/>
<line x1="106.12" y1="142.20" x2="106.12" y2="149.22" stroke="#0072BD" stroke-width="1.05"/>
<line x1="107.41" y1="142.20" x2="107.41" y2="120.96" stroke="#0072BD" stroke-width="1.05"/>
<line x1="108.70" y1="142.20" x2="108.70" y2="139.30" stroke="#0072BD" stroke-width="1.05"/>
<line x1="109.99" y1="142.20" x2="109.99" y2="142.10" stroke="#0072BD" stroke-width="1.05"/>
<line x1="111.27" y1="142.20" x2="111.27" y2="147.82" stroke="#0072BD" stroke-width="1.05"/>
<line x1="112.56" y1="142.20" x2="112.56" y2="145.18" stroke="#0072BD" stroke-width="1.05"/>
<line x1="113.85" y1="142.20" x2="113.85" y2="151.85" stroke="#0072BD" stroke-width="1.05"/>
<line x1="115.14" y1="142.20" x2="115.14" y2="135.36" stroke="#0072BD" stroke-width="1.05"/>
<line x1="116.42" y1="142.20" x2="116.42" y2="146.59" stroke="#0072BD" stroke-width="1.05"/>
<line x1="117.71" y1="142.20" x2="117.71" y2="151.85" stroke="#0072BD" stroke-width="1.05"/>
<line x1="119.00" y1="142.20" x2="119.00" y2="139.04" stroke="#0072BD" stroke-width="1.05"/>
<line x1="120.29" y1="142.20" x2="120.29" y2="143.95" stroke="#0072BD" stroke-width="1.05"/>
<line x1="121.58" y1="142.20" x2="121.58" y2="142.58" stroke="#0072BD" stroke-width="1.05"/>
<line x1="122.86" y1="142.20" x2="122.86" y2="136.94" stroke="#0072BD" stroke-width="1.05"/>
<line x1="124.15" y1="142.20" x2="124.15" y2="148.52" stroke="#0072BD" stroke-width="1.05"/>
<line x1="125.44" y1="142.20" x2="125.44" y2="150.45" stroke="#0072BD" stroke-width="1.05"/>
<line x1="126.73" y1="142.20" x2="126.73" y2="147.20" stroke="#0072BD" stroke-width="1.05"/>
<line x1="128.01" y1="142.20" x2="128.01" y2="126.14" stroke="#0072BD" stroke-width="1.05"/>
<line x1="129.30" y1="142.20" x2="129.30" y2="137.99" stroke="#0072BD" stroke-width="1.05"/>
<line x1="130.59" y1="142.20" x2="130.59" y2="139.30" stroke="#0072BD" stroke-width="1.05"/>
<line x1="131.88" y1="142.20" x2="131.88" y2="143.95" stroke="#0072BD" stroke-width="1.05"/>
<line x1="133.16" y1="142.20" x2="133.16" y2="136.32" stroke="#0072BD" stroke-width="1.05"/>
<line x1="134.45" y1="142.20" x2="134.45" y2="156.42" stroke="#0072BD" stroke-width="1.05"/>
<line x1="135.74" y1="142.20" x2="135.74" y2="145.18" stroke="#0072BD" stroke-width="1.05"/>
<line x1="137.03" y1="142.20" x2="137.03" y2="125.88" stroke="#0072BD" stroke-width="1.05"/>
<line x1="138.32" y1="142.20" x2="138.32" y2="144.57" stroke="#0072BD" stroke-width="1.05"/>
<line x1="139.60" y1="142.20" x2="139.60" y2="135.79" stroke="#0072BD" stroke-width="1.05"/>
<line x1="140.89" y1="142.20" x2="140.89" y2="132.99" stroke="#0072BD" stroke-width="1.05"/>
<line x1="142.18" y1="142.20" x2="142.18" y2="140.01" stroke="#0072BD" stroke-width="1.05"/>
<line x1="143.47" y1="142.20" x2="143.47" y2="151.15" stroke="#0072BD" stroke-width="1.05"/>
<line x1="144.75" y1="142.20" x2="144.75" y2="132.11" stroke="#0072BD" stroke-width="1.05"/>
<line x1="146.04" y1="142.20" x2="146.04" y2="149.22" stroke="#0072BD" stroke-width="1.05"/>
<line x1="147.33" y1="142.20" x2="147.33" y2="137.81" stroke="#0072BD" stroke-width="1.05"/>
<line x1="148.62" y1="142.20" x2="148.62" y2="143.25" stroke="#0072BD" stroke-width="1.05"/>
<line x1="149.90" y1="142.20" x2="149.90" y2="118.95" stroke="#0072BD" stroke-width="1.05"/>
<line x1="151.19" y1="142.20" x2="151.19" y2="146.59" stroke="#0072BD" stroke-width="1.05"/>
<line x1="152.48" y1="142.20" x2="152.48" y2="153.08" stroke="#0072BD" stroke-width="1.05"/>
<line x1="153.77" y1="142.20" x2="153.77" y2="136.94" stroke="#0072BD" stroke-width="1.05"/>
<line x1="155.05" y1="142.20" x2="155.05" y2="150.10" stroke="#0072BD" stroke-width="1.05"/>
<line x1="156.34" y1="142.20" x2="156.34" y2="127.11" stroke="#0072BD" stroke-width="1.05"/>
<line x1="157.63" y1="142.20" x2="157.63" y2="128.77" stroke="#0072BD" stroke-width="1.05"/>
<line x1="158.92" y1="142.20" x2="158.92" y2="145.18" stroke="#0072BD" stroke-width="1.05"/>
<line x1="160.21" y1="142.20" x2="160.21" y2="135.62" stroke="#0072BD" stroke-width="1.05"/>
<line x1="161.49" y1="142.20" x2="161.49" y2="143.44" stroke="#0072BD" stroke-width="1.05"/>
<line x1="162.78" y1="142.20" x2="162.78" y2="152.73" stroke="#0072BD" stroke-width="1.05"/>
<line x1="164.07" y1="142.20" x2="164.07" y2="122.63" stroke="#0072BD" stroke-width="1.05"/>
<line x1="165.36" y1="142.20" x2="165.36" y2="130.09" stroke="#0072BD" stroke-width="1.05"/>
<line x1="166.64" y1="142.20" x2="166.64" y2="147.20" stroke="#0072BD" stroke-width="1.05"/>
<line x1="167.93" y1="142.20" x2="167.93" y2="146.59" stroke="#0072BD" stroke-width="1.05"/>
<line x1="169.22" y1="142.20" x2="169.22" y2="147.82" stroke="#0072BD" stroke-width="1.05"/>
<line x1="170.51" y1="142.20" x2="170.51" y2="123.95" stroke="#0072BD" stroke-width="1.05"/>
<line x1="171.79" y1="142.20" x2="171.79" y2="151.15" stroke="#0072BD" stroke-width="1.05"/>
<line x1="173.08" y1="142.20" x2="173.08" y2="138.43" stroke="#0072BD" stroke-width="1.05"/>
<line x1="174.37" y1="142.20" x2="174.37" y2="147.20" stroke="#0072BD" stroke-width="1.05"/>
<line x1="175.66" y1="142.20" x2="175.66" y2="152.47" stroke="#0072BD" stroke-width="1.05"/>
<line x1="176.95" y1="142.20" x2="176.95" y2="142.18" stroke="#0072BD" stroke-width="1.05"/>
<line x1="178.23" y1="142.20" x2="178.23" y2="139.30" stroke="#0072BD" stroke-width="1.05"/>
<line x1="179.52" y1="142.20" x2="179.52" y2="137.64" stroke="#0072BD" stroke-width="1.05"/>
<line x1="180.81" y1="142.20" x2="180.81" y2="139.57" stroke="#0072BD" stroke-width="1.05"/>
<line x1="182.10" y1="142.20" x2="182.10" y2="150.45" stroke="#0072BD" stroke-width="1.05"/>
<line x1="183.38" y1="142.20" x2="183.38" y2="138.69" stroke="#0072BD" stroke-width="1.05"/>
<line x1="184.67" y1="142.20" x2="184.67" y2="131.67" stroke="#0072BD" stroke-width="1.05"/>
<line x1="185.96" y1="142.20" x2="185.96" y2="132.72" stroke="#0072BD" stroke-width="1.05"/>
<line x1="187.25" y1="142.20" x2="187.25" y2="138.69" stroke="#0072BD" stroke-width="1.05"/>
<line x1="188.53" y1="142.20" x2="188.53" y2="148.52" stroke="#0072BD" stroke-width="1.05"/>
<line x1="189.82" y1="142.20" x2="189.82" y2="131.06" stroke="#0072BD" stroke-width="1.05"/>
<line x1="191.11" y1="142.20" x2="191.11" y2="134.74" stroke="#0072BD" stroke-width="1.05"/>
<line x1="192.40" y1="142.20" x2="192.40" y2="158.08" stroke="#0072BD" stroke-width="1.05"/>
<line x1="193.68" y1="142.20" x2="193.68" y2="134.74" stroke="#0072BD" stroke-width="1.05"/>
<line x1="194.97" y1="142.20" x2="194.97" y2="127.28" stroke="#0072BD" stroke-width="1.05"/>
<line x1="196.26" y1="142.20" x2="196.26" y2="136.06" stroke="#0072BD" stroke-width="1.05"/>
<line x1="197.55" y1="142.20" x2="197.55" y2="140.44" stroke="#0072BD" stroke-width="1.05"/>
<line x1="198.84" y1="142.20" x2="198.84" y2="144.57" stroke="#0072BD" stroke-width="1.05"/>
<line x1="200.12" y1="142.20" x2="200.12" y2="148.25" stroke="#0072BD" stroke-width="1.05"/>
<line x1="201.41" y1="142.20" x2="201.41" y2="155.71" stroke="#0072BD" stroke-width="1.05"/>
<line x1="202.70" y1="142.20" x2="202.70" y2="139.30" stroke="#0072BD" stroke-width="1.05"/>
<line x1="203.99" y1="142.20" x2="203.99" y2="143.50" stroke="#0072BD" stroke-width="1.05"/>
<line x1="205.27" y1="142.20" x2="205.27" y2="143.95" stroke="#0072BD" stroke-width="1.05"/>
<line x1="206.56" y1="142.20" x2="206.56" y2="142.39" stroke="#0072BD" stroke-width="1.05"/>
<line x1="207.85" y1="142.20" x2="207.85" y2="135.36" stroke="#0072BD" stroke-width="1.05"/>
<line x1="209.14" y1="142.20" x2="209.14" y2="124.47" stroke="#0072BD" stroke-width="1.05"/>
<line x1="210.42" y1="142.20" x2="210.42" y2="153.52" stroke="#0072BD" stroke-width="1.05"/>
<line x1="211.71" y1="142.20" x2="211.71" y2="134.04" stroke="#0072BD" stroke-width="1.05"/>
<line x1="213.00" y1="142.20" x2="213.00" y2="128.16" stroke="#0072BD" stroke-width="1.05"/>
<line x1="214.29" y1="142.20" x2="214.29" y2="150.45" stroke="#0072BD" stroke-width="1.05"/>
<line x1="215.58" y1="142.20" x2="215.58" y2="125.53" stroke="#0072BD" stroke-width="1.05"/>
<line x1="216.86" y1="142.20" x2="216.86" y2="132.37" stroke="#0072BD" stroke-width="1.05"/>
<line x1="218.15" y1="142.20" x2="218.15" y2="166.77" stroke="#0072BD" stroke-width="1.05"/>
<line x1="219.44" y1="142.20" x2="219.44" y2="144.57" stroke="#0072BD" stroke-width="1.05"/>
<line x1="220.73" y1="142.20" x2="220.73" y2="147.20" stroke="#0072BD" stroke-width="1.05"/>
<line x1="222.01" y1="142.20" x2="222.01" y2="140.01" stroke="#0072BD" stroke-width="1.05"/>
<line x1="223.30" y1="142.20" x2="223.30" y2="157.03" stroke="#0072BD" stroke-width="1.05"/>
<line x1="224.59" y1="142.20" x2="224.59" y2="161.42" stroke="#0072BD" stroke-width="1.05"/>
<line x1="225.88" y1="142.20" x2="225.88" y2="140.62" stroke="#0072BD" stroke-width="1.05"/>
<line x1="227.16" y1="142.20" x2="227.16" y2="139.30" stroke="#0072BD" stroke-width="1.05"/>
<line x1="228.45" y1="142.20" x2="228.45" y2="151.15" stroke="#0072BD" stroke-width="1.05"/>
<line x1="229.74" y1="142.20" x2="229.74" y2="132.11" stroke="#0072BD" stroke-width="1.05"/>
<line x1="231.03" y1="142.20" x2="231.03" y2="150.45" stroke="#0072BD" stroke-width="1.05"/>
<line x1="232.32" y1="142.20" x2="232.32" y2="133.42" stroke="#0072BD" stroke-width="1.05"/>
<line x1="233.60" y1="142.20" x2="233.60" y2="135.36" stroke="#0072BD" stroke-width="1.05"/>
<line x1="234.89" y1="142.20" x2="234.89" y2="152.47" stroke="#0072BD" stroke-width="1.05"/>
<line x1="236.18" y1="142.20" x2="236.18" y2="146.59" stroke="#0072BD" stroke-width="1.05"/>
<line x1="237.47" y1="142.20" x2="237.47" y2="132.99" stroke="#0072BD" stroke-width="1.05"/>
<line x1="238.75" y1="142.20" x2="238.75" y2="139.04" stroke="#0072BD" stroke-width="1.05"/>
<line x1="240.04" y1="142.20" x2="240.04" y2="143.41" stroke="#0072BD" stroke-width="1.05"/>
<line x1="241.33" y1="142.20" x2="241.33" y2="132.72" stroke="#0072BD" stroke-width="1.05"/>
<line x1="242.62" y1="142.20" x2="242.62" y2="148.52" stroke="#0072BD" stroke-width="1.05"/>
<line x1="243.90" y1="142.20" x2="243.90" y2="147.20" stroke="#0072BD" stroke-width="1.05"/>
<line x1="245.19" y1="142.20" x2="245.19" y2="136.94" stroke="#0072BD" stroke-width="1.05"/>
<line x1="246.48" y1="142.20" x2="246.48" y2="147.82" stroke="#0072BD" stroke-width="1.05"/>
<line x1="247.77" y1="142.20" x2="247.77" y2="139.74" stroke="#0072BD" stroke-width="1.05"/>
<line x1="249.05" y1="142.20" x2="249.05" y2="131.41" stroke="#0072BD" stroke-width="1.05"/>
<line x1="250.34" y1="142.20" x2="250.34" y2="143.35" stroke="#0072BD" stroke-width="1.05"/>
<line x1="251.63" y1="142.20" x2="251.63" y2="149.83" stroke="#0072BD" stroke-width="1.05"/>
<line x1="252.92" y1="142.20" x2="252.92" y2="137.99" stroke="#0072BD" stroke-width="1.05"/>
<line x1="254.21" y1="142.20" x2="254.21" y2="138.69" stroke="#0072BD" stroke-width="1.05"/>
<line x1="255.49" y1="142.20" x2="255.49" y2="131.67" stroke="#0072BD" stroke-width="1.05"/>
<line x1="256.78" y1="142.20" x2="256.78" y2="150.45" stroke="#0072BD" stroke-width="1.05"/>
<line x1="258.07" y1="142.20" x2="258.07" y2="136.67" stroke="#0072BD" stroke-width="1.05"/>
<line x1="259.36" y1="142.20" x2="259.36" y2="144.57" stroke="#0072BD" stroke-width="1.05"/>
<line x1="260.64" y1="142.20" x2="260.64" y2="153.78" stroke="#0072BD" stroke-width="1.05"/>
<line x1="261.93" y1="142.20" x2="261.93" y2="152.47" stroke="#0072BD" stroke-width="1.05"/>
<line x1="263.22" y1="142.20" x2="263.22" y2="134.04" stroke="#0072BD" stroke-width="1.05"/>
<line x1="264.51" y1="142.20" x2="264.51" y2="148.52" stroke="#0072BD" stroke-width="1.05"/>
<line x1="265.79" y1="142.20" x2="265.79" y2="129.21" stroke="#0072BD" stroke-width="1.05"/>
<line x1="267.08" y1="142.20" x2="267.08" y2="151.85" stroke="#0072BD" stroke-width="1.05"/>
<line x1="268.37" y1="142.20" x2="268.37" y2="151.15" stroke="#0072BD" stroke-width="1.05"/>
<line x1="269.66" y1="142.20" x2="269.66" y2="127.28" stroke="#0072BD" stroke-width="1.05"/>
<line x1="270.95" y1="142.20" x2="270.95" y2="154.40" stroke="#0072BD" stroke-width="1.05"/>
<line x1="272.23" y1="142.20" x2="272.23" y2="142.41" stroke="#0072BD" stroke-width="1.05"/>
<line x1="273.52" y1="142.20" x2="273.52" y2="135.36" stroke="#0072BD" stroke-width="1.05"/>
<line x1="274.81" y1="142.20" x2="274.81" y2="134.74" stroke="#0072BD" stroke-width="1.05"/>
<line x1="276.10" y1="142.20" x2="276.10" y2="141.28" stroke="#0072BD" stroke-width="1.05"/>
<line x1="277.38" y1="142.20" x2="277.38" y2="151.15" stroke="#0072BD" stroke-width="1.05"/>
<line x1="278.67" y1="142.20" x2="278.67" y2="147.20" stroke="#0072BD" stroke-width="1.05"/>
<line x1="279.96" y1="142.20" x2="279.96" y2="124.83" stroke="#0072BD" stroke-width="1.05"/>
<line x1="281.25" y1="142.20" x2="281.25" y2="145.18" stroke="#0072BD" stroke-width="1.05"/>
<line x1="282.53" y1="142.20" x2="282.53" y2="135.00" stroke="#0072BD" stroke-width="1.05"/>
<line x1="283.82" y1="142.20" x2="283.82" y2="150.19" stroke="#0072BD" stroke-width="1.05"/>
<line x1="285.11" y1="142.20" x2="285.11" y2="132.11" stroke="#0072BD" stroke-width="1.05"/>
<line x1="286.40" y1="142.20" x2="286.40" y2="145.18" stroke="#0072BD" stroke-width="1.05"/>
<line x1="287.68" y1="142.20" x2="287.68" y2="132.37" stroke="#0072BD" stroke-width="1.05"/>
<line x1="288.97" y1="142.20" x2="288.97" y2="136.06" stroke="#0072BD" stroke-width="1.05"/>
<line x1="290.26" y1="142.20" x2="290.26" y2="140.01" stroke="#0072BD" stroke-width="1.05"/>
<line x1="291.55" y1="142.20" x2="291.55" y2="137.99" stroke="#0072BD" stroke-width="1.05"/>
<line x1="292.84" y1="142.20" x2="292.84" y2="145.18" stroke="#0072BD" stroke-width="1.05"/>
<line x1="294.12" y1="142.20" x2="294.12" y2="133.69" stroke="#0072BD" stroke-width="1.05"/>
<line x1="295.41" y1="142.20" x2="295.41" y2="144.57" stroke="#0072BD" stroke-width="1.05"/>
<line x1="296.70" y1="142.20" x2="296.70" y2="128.42" stroke="#0072BD" stroke-width="1.05"/>
<line x1="297.99" y1="142.20" x2="297.99" y2="138.69" stroke="#0072BD" stroke-width="1.05"/>
<line x1="299.27" y1="142.20" x2="299.27" y2="143.25" stroke="#0072BD" stroke-width="1.05"/>
<line x1="300.56" y1="142.20" x2="300.56" y2="129.74" stroke="#0072BD" stroke-width="1.05"/>
<line x1="301.85" y1="142.20" x2="301.85" y2="135.36" stroke="#0072BD" stroke-width="1.05"/>
<line x1="303.14" y1="142.20" x2="303.14" y2="137.99" stroke="#0072BD" stroke-width="1.05"/>
<line x1="304.42" y1="142.20" x2="304.42" y2="150.89" stroke="#0072BD" stroke-width="1.05"/>
<line x1="305.71" y1="142.20" x2="305.71" y2="151.50" stroke="#0072BD" stroke-width="1.05"/>
<line x1="307.00" y1="142.20" x2="307.00" y2="129.91" stroke="#0072BD" stroke-width="1.05"/>
<line x1="308.29" y1="142.20" x2="308.29" y2="151.15" stroke="#0072BD" stroke-width="1.05"/>
<line x1="309.58" y1="142.20" x2="309.58" y2="134.04" stroke="#0072BD" stroke-width="1.05"/>
<line x1="310.86" y1="142.20" x2="310.86" y2="128.51" stroke="#0072BD" stroke-width="1.05"/>
<line x1="312.15" y1="142.20" x2="312.15" y2="146.15" stroke="#0072BD" stroke-width="1.05"/>
<line x1="313.44" y1="142.20" x2="313.44" y2="133.78" stroke="#0072BD" stroke-width="1.05"/>
<line x1="314.73" y1="142.20" x2="314.73" y2="143.25" stroke="#0072BD" stroke-width="1.05"/>
<line x1="316.01" y1="142.20" x2="316.01" y2="139.57" stroke="#0072BD" stroke-width="1.05"/>
<line x1="317.30" y1="142.20" x2="317.30" y2="143.26" stroke="#0072BD" stroke-width="1.05"/>
<line x1="318.59" y1="142.20" x2="318.59" y2="142.98" stroke="#0072BD" stroke-width="1.05"/>
<line x1="319.88" y1="142.20" x2="319.88" y2="152.47" stroke="#0072BD" stroke-width="1.05"/>
<line x1="321.16" y1="142.20" x2="321.16" y2="141.32" stroke="#0072BD" stroke-width="1.05"/>
<line x1="322.45" y1="142.20" x2="322.45" y2="132.11" stroke="#0072BD" stroke-width="1.05"/>
<line x1="323.74" y1="142.20" x2="323.74" y2="146.59" stroke="#0072BD" stroke-width="1.05"/>
<line x1="325.03" y1="142.20" x2="325.03" y2="143.95" stroke="#0072BD" stroke-width="1.05"/>
<line x1="326.32" y1="142.20" x2="326.32" y2="141.84" stroke="#0072BD" stroke-width="1.05"/>
<line x1="327.60" y1="142.20" x2="327.60" y2="138.69" stroke="#0072BD" stroke-width="1.05"/>
<line x1="328.89" y1="142.20" x2="328.89" y2="136.32" stroke="#0072BD" stroke-width="1.05"/>
<line x1="330.18" y1="142.20" x2="330.18" y2="153.52" stroke="#0072BD" stroke-width="1.05"/>
<line x1="331.47" y1="142.20" x2="331.47" y2="139.30" stroke="#0072BD" stroke-width="1.05"/>
<line x1="332.75" y1="142.20" x2="332.75" y2="143.52" stroke="#0072BD" stroke-width="1.05"/>
<line x1="334.04" y1="142.20" x2="334.04" y2="140.94" stroke="#0072BD" stroke-width="1.05"/>
<line x1="335.33" y1="142.20" x2="335.33" y2="133.16" stroke="#0072BD" stroke-width="1.05"/>
<line x1="336.62" y1="142.20" x2="336.62" y2="141.98" stroke="#0072BD" stroke-width="1.05"/>
<line x1="337.90" y1="142.20" x2="337.90" y2="143.95" stroke="#0072BD" stroke-width="1.05"/>
<line x1="339.19" y1="142.20" x2="339.19" y2="148.52" stroke="#0072BD" stroke-width="1.05"/>
<line x1="340.48" y1="142.20" x2="340.48" y2="149.83" stroke="#0072BD" stroke-width="1.05"/>
<line x1="341.77" y1="142.20" x2="341.77" y2="151.15" stroke="#0072BD" stroke-width="1.05"/>
<line x1="343.05" y1="142.20" x2="343.05" y2="155.10" stroke="#0072BD" stroke-width="1.05"/>
<line x1="344.34" y1="142.20" x2="344.34" y2="154.40" stroke="#0072BD" stroke-width="1.05"/>
<line x1="345.63" y1="142.20" x2="345.63" y2="130.79" stroke="#0072BD" stroke-width="1.05"/>
<line x1="346.92" y1="142.20" x2="346.92" y2="140.62" stroke="#0072BD" stroke-width="1.05"/>
<line x1="348.21" y1="142.20" x2="348.21" y2="132.11" stroke="#0072BD" stroke-width="1.05"/>
<line x1="349.49" y1="142.20" x2="349.49" y2="143.52" stroke="#0072BD" stroke-width="1.05"/>
<line x1="350.78" y1="142.20" x2="350.78" y2="137.81" stroke="#0072BD" stroke-width="1.05"/>
<line x1="352.07" y1="142.20" x2="352.07" y2="140.01" stroke="#0072BD" stroke-width="1.05"/>
<line x1="353.36" y1="142.20" x2="353.36" y2="135.00" stroke="#0072BD" stroke-width="1.05"/>
<line x1="354.64" y1="142.20" x2="354.64" y2="138.69" stroke="#0072BD" stroke-width="1.05"/>
<line x1="355.93" y1="142.20" x2="355.93" y2="147.20" stroke="#0072BD" stroke-width="1.05"/>
<line x1="357.22" y1="142.20" x2="357.22" y2="138.69" stroke="#0072BD" stroke-width="1.05"/>
<line x1="358.51" y1="142.20" x2="358.51" y2="134.74" stroke="#0072BD" stroke-width="1.05"/>
<line x1="359.79" y1="142.20" x2="359.79" y2="142.49" stroke="#0072BD" stroke-width="1.05"/>
<line x1="361.08" y1="142.20" x2="361.08" y2="140.01" stroke="#0072BD" stroke-width="1.05"/>
<line x1="362.37" y1="142.20" x2="362.37" y2="143.95" stroke="#0072BD" stroke-width="1.05"/>
<line x1="363.66" y1="142.20" x2="363.66" y2="133.78" stroke="#0072BD" stroke-width="1.05"/>
<line x1="364.95" y1="142.20" x2="364.95" y2="132.11" stroke="#0072BD" stroke-width="1.05"/>
<line x1="366.23" y1="142.20" x2="366.23" y2="152.73" stroke="#0072BD" stroke-width="1.05"/>
<line x1="367.52" y1="142.20" x2="367.52" y2="144.57" stroke="#0072BD" stroke-width="1.05"/>
<line x1="368.81" y1="142.20" x2="368.81" y2="162.03" stroke="#0072BD" stroke-width="1.05"/>
<line x1="370.10" y1="142.20" x2="370.10" y2="125.53" stroke="#0072BD" stroke-width="1.05"/>
<line x1="371.38" y1="142.20" x2="371.38" y2="139.30" stroke="#0072BD" stroke-width="1.05"/>
<line x1="372.67" y1="142.20" x2="372.67" y2="134.30" stroke="#0072BD" stroke-width="1.05"/>
<line x1="373.96" y1="142.20" x2="373.96" y2="151.15" stroke="#0072BD" stroke-width="1.05"/>
<line x1="375.25" y1="142.20" x2="375.25" y2="135.79" stroke="#0072BD" stroke-width="1.05"/>
<line x1="376.53" y1="142.20" x2="376.53" y2="155.10" stroke="#0072BD" stroke-width="1.05"/>
<line x1="377.82" y1="142.20" x2="377.82" y2="130.53" stroke="#0072BD" stroke-width="1.05"/>
<line x1="379.11" y1="142.20" x2="379.11" y2="143.25" stroke="#0072BD" stroke-width="1.05"/>
<line x1="380.40" y1="142.20" x2="380.40" y2="139.04" stroke="#0072BD" stroke-width="1.05"/>
<line x1="381.68" y1="142.20" x2="381.68" y2="154.40" stroke="#0072BD" stroke-width="1.05"/>
<line x1="382.97" y1="142.20" x2="382.97" y2="147.20" stroke="#0072BD" stroke-width="1.05"/>
<line x1="384.26" y1="142.20" x2="384.26" y2="137.99" stroke="#0072BD" stroke-width="1.05"/>
<line x1="385.55" y1="142.20" x2="385.55" y2="128.42" stroke="#0072BD" stroke-width="1.05"/>
<line x1="386.84" y1="142.20" x2="386.84" y2="140.86" stroke="#0072BD" stroke-width="1.05"/>
<line x1="388.12" y1="142.20" x2="388.12" y2="145.18" stroke="#0072BD" stroke-width="1.05"/>
<line x1="389.41" y1="142.20" x2="389.41" y2="140.88" stroke="#0072BD" stroke-width="1.05"/>
<line x1="390.70" y1="142.20" x2="390.70" y2="156.42" stroke="#0072BD" stroke-width="1.05"/>
<line x1="391.99" y1="142.20" x2="391.99" y2="161.42" stroke="#0072BD" stroke-width="1.05"/>
<line x1="393.27" y1="142.20" x2="393.27" y2="140.62" stroke="#0072BD" stroke-width="1.05"/>
<line x1="394.56" y1="142.20" x2="394.56" y2="139.30" stroke="#0072BD" stroke-width="1.05"/>
<line x1="395.85" y1="142.20" x2="395.85" y2="138.95" stroke="#0072BD" stroke-width="1.05"/>
<line x1="397.14" y1="142.20" x2="397.14" y2="133.42" stroke="#0072BD" stroke-width="1.05"/>
<line x1="398.42" y1="142.20" x2="398.42" y2="143.47" stroke="#0072BD" stroke-width="1.05"/>
<line x1="399.71" y1="142.20" x2="399.71" y2="146.15" stroke="#0072BD" stroke-width="1.05"/>
<line x1="401.00" y1="142.20" x2="401.00" y2="133.78" stroke="#0072BD" stroke-width="1.05"/>
<line x1="402.29" y1="142.20" x2="402.29" y2="134.74" stroke="#0072BD" stroke-width="1.05"/>
<line x1="403.58" y1="142.20" x2="403.58" y2="131.85" stroke="#0072BD" stroke-width="1.05"/>
<line x1="404.86" y1="142.20" x2="404.86" y2="132.72" stroke="#0072BD" stroke-width="1.05"/>
<line x1="406.15" y1="142.20" x2="406.15" y2="150.89" stroke="#0072BD" stroke-width="1.05"/>
<line x1="407.44" y1="142.20" x2="407.44" y2="136.67" stroke="#0072BD" stroke-width="1.05"/>
<line x1="408.73" y1="142.20" x2="408.73" y2="121.14" stroke="#0072BD" stroke-width="1.05"/>
<line x1="410.01" y1="142.20" x2="410.01" y2="148.52" stroke="#0072BD" stroke-width="1.05"/>
<line x1="411.30" y1="142.20" x2="411.30" y2="140.01" stroke="#0072BD" stroke-width="1.05"/>
<line x1="412.59" y1="142.20" x2="412.59" y2="134.04" stroke="#0072BD" stroke-width="1.05"/>
<line x1="413.88" y1="142.20" x2="413.88" y2="137.99" stroke="#0072BD" stroke-width="1.05"/>
<line x1="415.16" y1="142.20" x2="415.16" y2="141.19" stroke="#0072BD" stroke-width="1.05"/>
<line x1="416.45" y1="142.20" x2="416.45" y2="146.15" stroke="#0072BD" stroke-width="1.05"/>
<line x1="417.74" y1="142.20" x2="417.74" y2="144.57" stroke="#0072BD" stroke-width="1.05"/>
<line x1="419.03" y1="142.20" x2="419.03" y2="146.15" stroke="#0072BD" stroke-width="1.05"/>
<line x1="420.32" y1="142.20" x2="420.32" y2="140.44" stroke="#0072BD" stroke-width="1.05"/>
<line x1="421.60" y1="142.20" x2="421.60" y2="138.69" stroke="#0072BD" stroke-width="1.05"/>
<line x1="422.89" y1="142.20" x2="422.89" y2="145.18" stroke="#0072BD" stroke-width="1.05"/>
<line x1="424.18" y1="142.20" x2="424.18" y2="143.95" stroke="#0072BD" stroke-width="1.05"/>
<line x1="425.47" y1="142.20" x2="425.47" y2="132.72" stroke="#0072BD" stroke-width="1.05"/>
<line x1="426.75" y1="142.20" x2="426.75" y2="149.83" stroke="#0072BD" stroke-width="1.05"/>
<line x1="428.04" y1="142.20" x2="428.04" y2="135.36" stroke="#0072BD" stroke-width="1.05"/>
<line x1="429.33" y1="142.20" x2="429.33" y2="149.22" stroke="#0072BD" stroke-width="1.05"/>
<line x1="430.62" y1="142.20" x2="430.62" y2="153.08" stroke="#0072BD" stroke-width="1.05"/>
<line x1="431.90" y1="142.20" x2="431.90" y2="144.57" stroke="#0072BD" stroke-width="1.05"/>
<line x1="433.19" y1="142.20" x2="433.19" y2="135.18" stroke="#0072BD" stroke-width="1.05"/>
<line x1="434.48" y1="142.20" x2="434.48" y2="126.14" stroke="#0072BD" stroke-width="1.05"/>
<line x1="435.77" y1="142.20" x2="435.77" y2="140.01" stroke="#0072BD" stroke-width="1.05"/>
<line x1="437.05" y1="142.20" x2="437.05" y2="153.78" stroke="#0072BD" stroke-width="1.05"/>
<line x1="438.34" y1="142.20" x2="438.34" y2="154.40" stroke="#0072BD" stroke-width="1.05"/>
<line x1="439.63" y1="142.20" x2="439.63" y2="140.01" stroke="#0072BD" stroke-width="1.05"/>
<line x1="440.92" y1="142.20" x2="440.92" y2="139.30" stroke="#0072BD" stroke-width="1.05"/>
<line x1="442.21" y1="142.20" x2="442.21" y2="138.95" stroke="#0072BD" stroke-width="1.05"/>
<line x1="443.49" y1="142.20" x2="443.49" y2="142.79" stroke="#0072BD" stroke-width="1.05"/>
<line x1="444.78" y1="142.20" x2="444.78" y2="146.15" stroke="#0072BD" stroke-width="1.05"/>
<line x1="446.07" y1="142.20" x2="446.07" y2="140.01" stroke="#0072BD" stroke-width="1.05"/>
<line x1="447.36" y1="142.20" x2="447.36" y2="137.99" stroke="#0072BD" stroke-width="1.05"/>
<line x1="448.64" y1="142.20" x2="448.64" y2="132.11" stroke="#0072BD" stroke-width="1.05"/>
<line x1="449.93" y1="142.20" x2="449.93" y2="145.62" stroke="#0072BD" stroke-width="1.05"/>
<line x1="451.22" y1="142.20" x2="451.22" y2="145.18" stroke="#0072BD" stroke-width="1.05"/>
<line x1="452.51" y1="142.20" x2="452.51" y2="132.72" stroke="#0072BD" stroke-width="1.05"/>
<line x1="453.79" y1="142.20" x2="453.79" y2="147.20" stroke="#0072BD" stroke-width="1.05"/>
<line x1="455.08" y1="142.20" x2="455.08" y2="145.62" stroke="#0072BD" stroke-width="1.05"/>
<line x1="456.37" y1="142.20" x2="456.37" y2="137.99" stroke="#0072BD" stroke-width="1.05"/>
<line x1="457.66" y1="142.20" x2="457.66" y2="143.25" stroke="#0072BD" stroke-width="1.05"/>
<line x1="458.95" y1="142.20" x2="458.95" y2="133.16" stroke="#0072BD" stroke-width="1.05"/>
<line x1="460.23" y1="142.20" x2="460.23" y2="135.18" stroke="#0072BD" stroke-width="1.05"/>
<line x1="461.52" y1="142.20" x2="461.52" y2="136.06" stroke="#0072BD" stroke-width="1.05"/>
<line x1="462.81" y1="142.20" x2="462.81" y2="152.82" stroke="#0072BD" stroke-width="1.05"/>
<line x1="464.10" y1="142.20" x2="464.10" y2="143.95" stroke="#0072BD" stroke-width="1.05"/>
<line x1="465.38" y1="142.20" x2="465.38" y2="136.06" stroke="#0072BD" stroke-width="1.05"/>
<line x1="466.67" y1="142.20" x2="466.67" y2="158.78" stroke="#0072BD" stroke-width="1.05"/>
<line x1="467.96" y1="142.20" x2="467.96" y2="144.57" stroke="#0072BD" stroke-width="1.05"/>
<line x1="469.25" y1="142.20" x2="469.25" y2="135.00" stroke="#0072BD" stroke-width="1.05"/>
<line x1="470.53" y1="142.20" x2="470.53" y2="143.52" stroke="#0072BD" stroke-width="1.05"/>
<line x1="471.82" y1="142.20" x2="471.82" y2="143.25" stroke="#0072BD" stroke-width="1.05"/>
<line x1="473.11" y1="142.20" x2="473.11" y2="137.37" stroke="#0072BD" stroke-width="1.05"/>
<line x1="474.40" y1="142.20" x2="474.40" y2="135.18" stroke="#0072BD" stroke-width="1.05"/>
<line x1="475.68" y1="142.20" x2="475.68" y2="134.04" stroke="#0072BD" stroke-width="1.05"/>
<line x1="476.97" y1="142.20" x2="476.97" y2="154.05" stroke="#0072BD" stroke-width="1.05"/>
<line x1="478.26" y1="142.20" x2="478.26" y2="128.77" stroke="#0072BD" stroke-width="1.05"/>
<line x1="479.55" y1="142.20" x2="479.55" y2="138.69" stroke="#0072BD" stroke-width="1.05"/>
<line x1="480.84" y1="142.20" x2="480.84" y2="136.94" stroke="#0072BD" stroke-width="1.05"/>
<line x1="482.12" y1="142.20" x2="482.12" y2="149.57" stroke="#0072BD" stroke-width="1.05"/>
<line x1="483.41" y1="142.20" x2="483.41" y2="138.95" stroke="#0072BD" stroke-width="1.05"/>
<line x1="484.70" y1="142.20" x2="484.70" y2="132.11" stroke="#0072BD" stroke-width="1.05"/>
<line x1="485.99" y1="142.20" x2="485.99" y2="141.32" stroke="#0072BD" stroke-width="1.05"/>
<line x1="487.27" y1="142.20" x2="487.27" y2="132.37" stroke="#0072BD" stroke-width="1.05"/>
<line x1="488.56" y1="142.20" x2="488.56" y2="148.52" stroke="#0072BD" stroke-width="1.05"/>
<line x1="489.85" y1="142.20" x2="489.85" y2="158.08" stroke="#0072BD" stroke-width="1.05"/>
<line x1="491.14" y1="142.20" x2="491.14" y2="127.28" stroke="#0072BD" stroke-width="1.05"/>
<line x1="492.42" y1="142.20" x2="492.42" y2="127.28" stroke="#0072BD" stroke-width="1.05"/>
<line x1="493.71" y1="142.20" x2="493.71" y2="143.20" stroke="#0072BD" stroke-width="1.05"/>
<line x1="495.00" y1="142.20" x2="495.00" y2="137.37" stroke="#0072BD" stroke-width="1.05"/>
<line x1="496.29" y1="142.20" x2="496.29" y2="141.32" stroke="#0072BD" stroke-width="1.05"/>
<line x1="497.58" y1="142.20" x2="497.58" y2="129.91" stroke="#0072BD" stroke-width="1.05"/>
<line x1="498.86" y1="142.20" x2="498.86" y2="150.19" stroke="#0072BD" stroke-width="1.05"/>
<line x1="500.15" y1="142.20" x2="500.15" y2="148.52" stroke="#0072BD" stroke-width="1.05"/>
<line x1="501.44" y1="142.20" x2="501.44" y2="136.32" stroke="#0072BD" stroke-width="1.05"/>
<line x1="502.73" y1="142.20" x2="502.73" y2="141.32" stroke="#0072BD" stroke-width="1.05"/>
<line x1="504.01" y1="142.20" x2="504.01" y2="143.27" stroke="#0072BD" stroke-width="1.05"/>
<line x1="505.30" y1="142.20" x2="505.30" y2="147.46" stroke="#0072BD" stroke-width="1.05"/>
<line x1="506.59" y1="142.20" x2="506.59" y2="142.74" stroke="#0072BD" stroke-width="1.05"/>
<line x1="507.88" y1="142.20" x2="507.88" y2="130.09" stroke="#0072BD" stroke-width="1.05"/>
<line x1="509.16" y1="142.20" x2="509.16" y2="135.36" stroke="#0072BD" stroke-width="1.05"/>
<line x1="510.45" y1="142.20" x2="510.45" y2="140.01" stroke="#0072BD" stroke-width="1.05"/>
<line x1="511.74" y1="142.20" x2="511.74" y2="151.15" stroke="#0072BD" stroke-width="1.05"/>
<line x1="513.03" y1="142.20" x2="513.03" y2="153.78" stroke="#0072BD" stroke-width="1.05"/>
<line x1="514.32" y1="142.20" x2="514.32" y2="127.72" stroke="#0072BD" stroke-width="1.05"/>
<line x1="515.60" y1="142.20" x2="515.60" y2="143.95" stroke="#0072BD" stroke-width="1.05"/>
<line x1="516.89" y1="142.20" x2="516.89" y2="132.55" stroke="#0072BD" stroke-width="1.05"/>
<line x1="518.18" y1="142.20" x2="518.18" y2="135.36" stroke="#0072BD" stroke-width="1.05"/>
<line x1="519.47" y1="142.20" x2="519.47" y2="150.89" stroke="#0072BD" stroke-width="1.05"/>
<line x1="520.75" y1="142.20" x2="520.75" y2="141.31" stroke="#0072BD" stroke-width="1.05"/>
<line x1="522.04" y1="142.20" x2="522.04" y2="132.55" stroke="#0072BD" stroke-width="1.05"/>
<line x1="523.33" y1="142.20" x2="523.33" y2="130.09" stroke="#0072BD" stroke-width="1.05"/>
<line x1="524.62" y1="142.20" x2="524.62" y2="146.15" stroke="#0072BD" stroke-width="1.05"/>
<line x1="525.90" y1="142.20" x2="525.90" y2="143.10" stroke="#0072BD" stroke-width="1.05"/>
<line x1="527.19" y1="142.20" x2="527.19" y2="141.97" stroke="#0072BD" stroke-width="1.05"/>
<line x1="528.48" y1="142.20" x2="528.48" y2="141.81" stroke="#0072BD" stroke-width="1.05"/>
<line x1="529.77" y1="142.20" x2="529.77" y2="140.62" stroke="#0072BD" stroke-width="1.05"/>
<line x1="531.05" y1="142.20" x2="531.05" y2="150.89" stroke="#0072BD" stroke-width="1.05"/>
<line x1="532.34" y1="142.20" x2="532.34" y2="151.85" stroke="#0072BD" stroke-width="1.05"/>
<line x1="533.63" y1="142.20" x2="533.63" y2="139.30" stroke="#0072BD" stroke-width="1.05"/>
<line x1="534.92" y1="142.20" x2="534.92" y2="151.15" stroke="#0072BD" stroke-width="1.05"/>
<line x1="536.21" y1="142.20" x2="536.21" y2="154.40" stroke="#0072BD" stroke-width="1.05"/>
<line x1="537.49" y1="142.20" x2="537.49" y2="146.59" stroke="#0072BD" stroke-width="1.05"/>
<line x1="538.78" y1="142.20" x2="538.78" y2="146.15" stroke="#0072BD" stroke-width="1.05"/>
<line x1="540.07" y1="142.20" x2="540.07" y2="149.22" stroke="#0072BD" stroke-width="1.05"/>
<line x1="541.36" y1="142.20" x2="541.36" y2="137.81" stroke="#0072BD" stroke-width="1.05"/>
<line x1="542.64" y1="142.20" x2="542.64" y2="145.62" stroke="#0072BD" stroke-width="1.05"/>
<line x1="543.93" y1="142.20" x2="543.93" y2="140.44" stroke="#0072BD" stroke-width="1.05"/>
<line x1="545.22" y1="142.20" x2="545.22" y2="142.56" stroke="#0072BD" stroke-width="1.05"/>
<line x1="546.51" y1="142.20" x2="546.51" y2="125.88" stroke="#0072BD" stroke-width="1.05"/>
<line x1="547.79" y1="142.20" x2="547.79" y2="139.74" stroke="#0072BD" stroke-width="1.05"/>
<line x1="549.08" y1="142.20" x2="549.08" y2="132.72" stroke="#0072BD" stroke-width="1.05"/>
<line x1="550.37" y1="142.20" x2="550.37" y2="140.62" stroke="#0072BD" stroke-width="1.05"/>
<line x1="551.66" y1="142.20" x2="551.66" y2="136.06" stroke="#0072BD" stroke-width="1.05"/>
<line x1="552.95" y1="142.20" x2="552.95" y2="142.07" stroke="#0072BD" stroke-width="1.05"/>
<line x1="554.23" y1="142.20" x2="554.23" y2="145.18" stroke="#0072BD" stroke-width="1.05"/>
<line x1="555.52" y1="142.20" x2="555.52" y2="143.43" stroke="#0072BD" stroke-width="1.05"/>
<line x1="556.81" y1="142.20" x2="556.81" y2="136.06" stroke="#0072BD" stroke-width="1.05"/>
<line x1="558.10" y1="142.20" x2="558.10" y2="143.44" stroke="#0072BD" stroke-width="1.05"/>
<line x1="559.38" y1="142.20" x2="559.38" y2="154.84" stroke="#0072BD" stroke-width="1.05"/>
<line x1="560.67" y1="142.20" x2="560.67" y2="137.37" stroke="#0072BD" stroke-width="1.05"/>
<line x1="561.96" y1="142.20" x2="561.96" y2="143.03" stroke="#0072BD" stroke-width="1.05"/>
<line x1="563.25" y1="142.20" x2="563.25" y2="156.15" stroke="#0072BD" stroke-width="1.05"/>
<line x1="564.53" y1="142.20" x2="564.53" y2="141.69" stroke="#0072BD" stroke-width="1.05"/>
<line x1="565.82" y1="142.20" x2="565.82" y2="144.57" stroke="#0072BD" stroke-width="1.05"/>
<line x1="567.11" y1="142.20" x2="567.11" y2="151.15" stroke="#0072BD" stroke-width="1.05"/>
<line x1="568.40" y1="142.20" x2="568.40" y2="154.84" stroke="#0072BD" stroke-width="1.05"/>
<line x1="569.68" y1="142.20" x2="569.68" y2="139.30" stroke="#0072BD" stroke-width="1.05"/>
<line x1="570.97" y1="142.20" x2="570.97" y2="144.57" stroke="#0072BD" stroke-width="1.05"/>
<line x1="572.26" y1="142.20" x2="572.26" y2="124.83" stroke="#0072BD" stroke-width="1.05"/>
<line x1="573.55" y1="142.20" x2="573.55" y2="150.19" stroke="#0072BD" stroke-width="1.05"/>
<line x1="574.84" y1="142.20" x2="574.84" y2="147.20" stroke="#0072BD" stroke-width="1.05"/>
<line x1="576.12" y1="142.20" x2="576.12" y2="150.19" stroke="#0072BD" stroke-width="1.05"/>
<line x1="577.41" y1="142.20" x2="577.41" y2="142.40" stroke="#0072BD" stroke-width="1.05"/>
<line x1="578.70" y1="142.20" x2="578.70" y2="137.99" stroke="#0072BD" stroke-width="1.05"/>
<line x1="579.99" y1="142.20" x2="579.99" y2="149.57" stroke="#0072BD" stroke-width="1.05"/>
<line x1="581.27" y1="142.20" x2="581.27" y2="141.32" stroke="#0072BD" stroke-width="1.05"/>
<line x1="582.56" y1="142.20" x2="582.56" y2="143.25" stroke="#0072BD" stroke-width="1.05"/>
<line x1="583.85" y1="142.20" x2="583.85" y2="118.95" stroke="#0072BD" stroke-width="1.05"/>
<line x1="585.14" y1="142.20" x2="585.14" y2="142.72" stroke="#0072BD" stroke-width="1.05"/>
<line x1="586.42" y1="142.20" x2="586.42" y2="157.47" stroke="#0072BD" stroke-width="1.05"/>
<line x1="587.71" y1="142.20" x2="587.71" y2="125.79" stroke="#0072BD" stroke-width="1.05"/>
<line x1="589.00" y1="142.20" x2="589.00" y2="141.96" stroke="#0072BD" stroke-width="1.05"/>
<line x1="590.29" y1="142.20" x2="590.29" y2="151.50" stroke="#0072BD" stroke-width="1.05"/>
<line x1="591.58" y1="142.20" x2="591.58" y2="148.52" stroke="#0072BD" stroke-width="1.05"/>
<line x1="592.86" y1="142.20" x2="592.86" y2="125.09" stroke="#0072BD" stroke-width="1.05"/>
<line x1="594.15" y1="142.20" x2="594.15" y2="146.15" stroke="#0072BD" stroke-width="1.05"/>
<line x1="595.44" y1="142.20" x2="595.44" y2="149.83" stroke="#0072BD" stroke-width="1.05"/>
<line x1="596.73" y1="142.20" x2="596.73" y2="131.67" stroke="#0072BD" stroke-width="1.05"/>
<line x1="598.01" y1="142.20" x2="598.01" y2="137.99" stroke="#0072BD" stroke-width="1.05"/>
<line x1="599.30" y1="142.20" x2="599.30" y2="136.06" stroke="#0072BD" stroke-width="1.05"/>
<line x1="600.59" y1="142.20" x2="600.59" y2="142.33" stroke="#0072BD" stroke-width="1.05"/>
<line x1="601.88" y1="142.20" x2="601.88" y2="135.36" stroke="#0072BD" stroke-width="1.05"/>
<line x1="603.16" y1="142.20" x2="603.16" y2="146.59" stroke="#0072BD" stroke-width="1.05"/>
<line x1="604.45" y1="142.20" x2="604.45" y2="153.08" stroke="#0072BD" stroke-width="1.05"/>
<line x1="605.74" y1="142.20" x2="605.74" y2="147.82" stroke="#0072BD" stroke-width="1.05"/>
<line x1="607.03" y1="142.20" x2="607.03" y2="136.94" stroke="#0072BD" stroke-width="1.05"/>
<line x1="608.32" y1="142.20" x2="608.32" y2="121.58" stroke="#0072BD" stroke-width="1.05"/>
<line x1="609.60" y1="142.20" x2="609.60" y2="149.57" stroke="#0072BD" stroke-width="1.05"/>
<line x1="610.89" y1="142.20" x2="610.89" y2="140.88" stroke="#0072BD" stroke-width="1.05"/>
<line x1="612.18" y1="142.20" x2="612.18" y2="132.11" stroke="#0072BD" stroke-width="1.05"/>
<line x1="613.47" y1="142.20" x2="613.47" y2="137.37" stroke="#0072BD" stroke-width="1.05"/>
<line x1="614.75" y1="142.20" x2="614.75" y2="143.95" stroke="#0072BD" stroke-width="1.05"/>
<line x1="616.04" y1="142.20" x2="616.04" y2="149.83" stroke="#0072BD" stroke-width="1.05"/>
<line x1="617.33" y1="142.20" x2="617.33" y2="132.55" stroke="#0072BD" stroke-width="1.05"/>
<line x1="618.62" y1="142.20" x2="618.62" y2="146.59" stroke="#0072BD" stroke-width="1.05"/>
<line x1="619.90" y1="142.20" x2="619.90" y2="145.18" stroke="#0072BD" stroke-width="1.05"/>
<line x1="621.19" y1="142.20" x2="621.19" y2="142.76" stroke="#0072BD" stroke-width="1.05"/>
<line x1="622.48" y1="142.20" x2="622.48" y2="152.47" stroke="#0072BD" stroke-width="1.05"/>
<line x1="623.77" y1="142.20" x2="623.77" y2="153.78" stroke="#0072BD" stroke-width="1.05"/>
<line x1="625.05" y1="142.20" x2="625.05" y2="144.57" stroke="#0072BD" stroke-width="1.05"/>
<line x1="626.34" y1="142.20" x2="626.34" y2="136.06" stroke="#0072BD" stroke-width="1.05"/>
<line x1="627.63" y1="142.20" x2="627.63" y2="158.35" stroke="#0072BD" stroke-width="1.05"/>
<line x1="628.92" y1="142.20" x2="628.92" y2="134.74" stroke="#0072BD" stroke-width="1.05"/>
<line x1="630.21" y1="142.20" x2="630.21" y2="134.04" stroke="#0072BD" stroke-width="1.05"/>
<line x1="631.49" y1="142.20" x2="631.49" y2="141.37" stroke="#0072BD" stroke-width="1.05"/>
<line x1="632.78" y1="142.20" x2="632.78" y2="151.15" stroke="#0072BD" stroke-width="1.05"/>
<line x1="634.07" y1="142.20" x2="634.07" y2="139.04" stroke="#0072BD" stroke-width="1.05"/>
<line x1="635.36" y1="142.20" x2="635.36" y2="141.64" stroke="#0072BD" stroke-width="1.05"/>
<line x1="636.64" y1="142.20" x2="636.64" y2="124.21" stroke="#0072BD" stroke-width="1.05"/>
<line x1="637.93" y1="142.20" x2="637.93" y2="157.73" stroke="#0072BD" stroke-width="1.05"/>
<line x1="639.22" y1="142.20" x2="639.22" y2="147.20" stroke="#0072BD" stroke-width="1.05"/>
<line x1="640.51" y1="142.20" x2="640.51" y2="147.82" stroke="#0072BD" stroke-width="1.05"/>
<line x1="641.79" y1="142.20" x2="641.79" y2="124.83" stroke="#0072BD" stroke-width="1.05"/>
<line x1="643.08" y1="142.20" x2="643.08" y2="128.77" stroke="#0072BD" stroke-width="1.05"/>
<line x1="644.37" y1="142.20" x2="644.37" y2="145.18" stroke="#0072BD" stroke-width="1.05"/>
<line x1="645.66" y1="142.20" x2="645.66" y2="127.90" stroke="#0072BD" stroke-width="1.05"/>
<line x1="646.95" y1="142.20" x2="646.95" y2="138.69" stroke="#0072BD" stroke-width="1.05"/>
<line x1="648.23" y1="142.20" x2="648.23" y2="132.11" stroke="#0072BD" stroke-width="1.05"/>
<line x1="649.52" y1="142.20" x2="649.52" y2="151.15" stroke="#0072BD" stroke-width="1.05"/>
<line x1="650.81" y1="142.20" x2="650.81" y2="140.44" stroke="#0072BD" stroke-width="1.05"/>
<line x1="652.10" y1="142.20" x2="652.10" y2="146.94" stroke="#0072BD" stroke-width="1.05"/>
<line x1="653.38" y1="142.20" x2="653.38" y2="146.94" stroke="#0072BD" stroke-width="1.05"/>
<line x1="654.67" y1="142.20" x2="654.67" y2="136.94" stroke="#0072BD" stroke-width="1.05"/>
<line x1="655.96" y1="142.20" x2="655.96" y2="143.95" stroke="#0072BD" stroke-width="1.05"/>
<line x1="657.25" y1="142.20" x2="657.25" y2="132.55" stroke="#0072BD" stroke-width="1.05"/>
<line x1="658.53" y1="142.20" x2="658.53" y2="142.92" stroke="#0072BD" stroke-width="1.05"/>
<line x1="659.82" y1="142.20" x2="659.82" y2="156.77" stroke="#0072BD" stroke-width="1.05"/>
<line x1="661.11" y1="142.20" x2="661.11" y2="141.99" stroke="#0072BD" stroke-width="1.05"/>
<line x1="662.40" y1="142.20" x2="662.40" y2="133.78" stroke="#0072BD" stroke-width="1.05"/>
<line x1="663.68" y1="142.20" x2="663.68" y2="136.06" stroke="#0072BD" stroke-width="1.05"/>
<line x1="664.97" y1="142.20" x2="664.97" y2="153.52" stroke="#0072BD" stroke-width="1.05"/>
<line x1="666.26" y1="142.20" x2="666.26" y2="132.55" stroke="#0072BD" stroke-width="1.05"/>
<line x1="667.55" y1="142.20" x2="667.55" y2="134.30" stroke="#0072BD" stroke-width="1.05"/>
<line x1="668.84" y1="142.20" x2="668.84" y2="134.30" stroke="#0072BD" stroke-width="1.05"/>
<line x1="670.12" y1="142.20" x2="670.12" y2="153.52" stroke="#0072BD" stroke-width="1.05"/>
<line x1="671.41" y1="142.20" x2="671.41" y2="142.13" stroke="#0072BD" stroke-width="1.05"/>
<line x1="672.70" y1="142.20" x2="672.70" y2="139.74" stroke="#0072BD" stroke-width="1.05"/>
<line x1="673.99" y1="142.20" x2="673.99" y2="141.15" stroke="#0072BD" stroke-width="1.05"/>
<line x1="675.27" y1="142.20" x2="675.27" y2="146.59" stroke="#0072BD" stroke-width="1.05"/>
<line x1="676.56" y1="142.20" x2="676.56" y2="138.95" stroke="#0072BD" stroke-width="1.05"/>
<line x1="677.85" y1="142.20" x2="677.85" y2="140.01" stroke="#0072BD" stroke-width="1.05"/>
<line x1="679.14" y1="142.20" x2="679.14" y2="140.62" stroke="#0072BD" stroke-width="1.05"/>
<line x1="680.42" y1="142.20" x2="680.42" y2="147.46" stroke="#0072BD" stroke-width="1.05"/>
<line x1="681.71" y1="142.20" x2="681.71" y2="138.43" stroke="#0072BD" stroke-width="1.05"/>
<line x1="683.00" y1="142.20" x2="683.00" y2="141.56" stroke="#0072BD" stroke-width="1.05"/>
<line x1="25.00" y1="142.20" x2="683.00" y2="142.20" stroke="#262626" stroke-width="0.80" stroke-opacity="0.55"/>
</g>
<g>
<line x1="25.00" y1="42.30" x2="683.00" y2="42.30" stroke="#262626" stroke-width="0.80"/>
<rect x="25.00" y="15.50" width="658.00" height="53.00" fill="none" stroke="#262626" stroke-width="0.80"/>
<line x1="88.68" y1="68.50" x2="88.68" y2="61.90" stroke="#262626" stroke-width="0.80"/>
<line x1="88.68" y1="15.50" x2="88.68" y2="22.10" stroke="#262626" stroke-width="0.80"/>
<line x1="153.00" y1="68.50" x2="153.00" y2="61.90" stroke="#262626" stroke-width="0.80"/>
<line x1="153.00" y1="15.50" x2="153.00" y2="22.10" stroke="#262626" stroke-width="0.80"/>
<line x1="217.32" y1="68.50" x2="217.32" y2="61.90" stroke="#262626" stroke-width="0.80"/>
<line x1="217.32" y1="15.50" x2="217.32" y2="22.10" stroke="#262626" stroke-width="0.80"/>
<line x1="281.64" y1="68.50" x2="281.64" y2="61.90" stroke="#262626" stroke-width="0.80"/>
<line x1="281.64" y1="15.50" x2="281.64" y2="22.10" stroke="#262626" stroke-width="0.80"/>
<line x1="345.96" y1="68.50" x2="345.96" y2="61.90" stroke="#262626" stroke-width="0.80"/>
<line x1="345.96" y1="15.50" x2="345.96" y2="22.10" stroke="#262626" stroke-width="0.80"/>
<line x1="410.28" y1="68.50" x2="410.28" y2="61.90" stroke="#262626" stroke-width="0.80"/>
<line x1="410.28" y1="15.50" x2="410.28" y2="22.10" stroke="#262626" stroke-width="0.80"/>
<line x1="474.60" y1="68.50" x2="474.60" y2="61.90" stroke="#262626" stroke-width="0.80"/>
<line x1="474.60" y1="15.50" x2="474.60" y2="22.10" stroke="#262626" stroke-width="0.80"/>
<line x1="538.92" y1="68.50" x2="538.92" y2="61.90" stroke="#262626" stroke-width="0.80"/>
<line x1="538.92" y1="15.50" x2="538.92" y2="22.10" stroke="#262626" stroke-width="0.80"/>
<line x1="603.24" y1="68.50" x2="603.24" y2="61.90" stroke="#262626" stroke-width="0.80"/>
<line x1="603.24" y1="15.50" x2="603.24" y2="22.10" stroke="#262626" stroke-width="0.80"/>
<line x1="667.56" y1="68.50" x2="667.56" y2="61.90" stroke="#262626" stroke-width="0.80"/>
<line x1="667.56" y1="15.50" x2="667.56" y2="22.10" stroke="#262626" stroke-width="0.80"/>
<line x1="25.00" y1="15.50" x2="31.60" y2="15.50" stroke="#262626" stroke-width="0.80"/>
<line x1="683.00" y1="15.50" x2="676.40" y2="15.50" stroke="#262626" stroke-width="0.80"/>
<line x1="25.00" y1="42.30" x2="31.60" y2="42.30" stroke="#262626" stroke-width="0.80"/>
<line x1="683.00" y1="42.30" x2="676.40" y2="42.30" stroke="#262626" stroke-width="0.80"/>
<line x1="25.00" y1="68.50" x2="31.60" y2="68.50" stroke="#262626" stroke-width="0.80"/>
<line x1="683.00" y1="68.50" x2="676.40" y2="68.50" stroke="#262626" stroke-width="0.80"/>
</g>
<g>
<line x1="25.00" y1="244.20" x2="683.00" y2="244.20" stroke="#262626" stroke-width="0.80"/>
<rect x="25.00" y="218.50" width="658.00" height="50.90" fill="none" stroke="#262626" stroke-width="0.80"/>
<line x1="88.68" y1="269.40" x2="88.68" y2="262.80" stroke="#262626" stroke-width="0.80"/>
<line x1="88.68" y1="218.50" x2="88.68" y2="225.10" stroke="#262626" stroke-width="0.80"/>
<line x1="153.00" y1="269.40" x2="153.00" y2="262.80" stroke="#262626" stroke-width="0.80"/>
<line x1="153.00" y1="218.50" x2="153.00" y2="225.10" stroke="#262626" stroke-width="0.80"/>
<line x1="217.32" y1="269.40" x2="217.32" y2="262.80" stroke="#262626" stroke-width="0.80"/>
<line x1="217.32" y1="218.50" x2="217.32" y2="225.10" stroke="#262626" stroke-width="0.80"/>
<line x1="281.64" y1="269.40" x2="281.64" y2="262.80" stroke="#262626" stroke-width="0.80"/>
<line x1="281.64" y1="218.50" x2="281.64" y2="225.10" stroke="#262626" stroke-width="0.80"/>
<line x1="345.96" y1="269.40" x2="345.96" y2="262.80" stroke="#262626" stroke-width="0.80"/>
<line x1="345.96" y1="218.50" x2="345.96" y2="225.10" stroke="#262626" stroke-width="0.80"/>
<line x1="410.28" y1="269.40" x2="410.28" y2="262.80" stroke="#262626" stroke-width="0.80"/>
<line x1="410.28" y1="218.50" x2="410.28" y2="225.10" stroke="#262626" stroke-width="0.80"/>
<line x1="474.60" y1="269.40" x2="474.60" y2="262.80" stroke="#262626" stroke-width="0.80"/>
<line x1="474.60" y1="218.50" x2="474.60" y2="225.10" stroke="#262626" stroke-width="0.80"/>
<line x1="538.92" y1="269.40" x2="538.92" y2="262.80" stroke="#262626" stroke-width="0.80"/>
<line x1="538.92" y1="218.50" x2="538.92" y2="225.10" stroke="#262626" stroke-width="0.80"/>
<line x1="603.24" y1="269.40" x2="603.24" y2="262.80" stroke="#262626" stroke-width="0.80"/>
<line x1="603.24" y1="218.50" x2="603.24" y2="225.10" stroke="#262626" stroke-width="0.80"/>
<line x1="667.56" y1="269.40" x2="667.56" y2="262.80" stroke="#262626" stroke-width="0.80"/>
<line x1="667.56" y1="218.50" x2="667.56" y2="225.10" stroke="#262626" stroke-width="0.80"/>
<line x1="25.00" y1="218.50" x2="31.60" y2="218.50" stroke="#262626" stroke-width="0.80"/>
<line x1="683.00" y1="218.50" x2="676.40" y2="218.50" stroke="#262626" stroke-width="0.80"/>
<line x1="25.00" y1="244.20" x2="31.60" y2="244.20" stroke="#262626" stroke-width="0.80"/>
<line x1="683.00" y1="244.20" x2="676.40" y2="244.20" stroke="#262626" stroke-width="0.80"/>
<line x1="25.00" y1="269.40" x2="31.60" y2="269.40" stroke="#262626" stroke-width="0.80"/>
<line x1="683.00" y1="269.40" x2="676.40" y2="269.40" stroke="#262626" stroke-width="0.80"/>
</g>
<g>
<line x1="25.00" y1="343.60" x2="683.00" y2="343.60" stroke="#262626" stroke-width="0.80"/>
<rect x="25.00" y="318.50" width="658.00" height="50.70" fill="none" stroke="#262626" stroke-width="0.80"/>
<line x1="88.68" y1="369.20" x2="88.68" y2="362.60" stroke="#262626" stroke-width="0.80"/>
<line x1="88.68" y1="318.50" x2="88.68" y2="325.10" stroke="#262626" stroke-width="0.80"/>
<line x1="153.00" y1="369.20" x2="153.00" y2="362.60" stroke="#262626" stroke-width="0.80"/>
<line x1="153.00" y1="318.50" x2="153.00" y2="325.10" stroke="#262626" stroke-width="0.80"/>
<line x1="217.32" y1="369.20" x2="217.32" y2="362.60" stroke="#262626" stroke-width="0.80"/>
<line x1="217.32" y1="318.50" x2="217.32" y2="325.10" stroke="#262626" stroke-width="0.80"/>
<line x1="281.64" y1="369.20" x2="281.64" y2="362.60" stroke="#262626" stroke-width="0.80"/>
<line x1="281.64" y1="318.50" x2="281.64" y2="325.10" stroke="#262626" stroke-width="0.80"/>
<line x1="345.96" y1="369.20" x2="345.96" y2="362.60" stroke="#262626" stroke-width="0.80"/>
<line x1="345.96" y1="318.50" x2="345.96" y2="325.10" stroke="#262626" stroke-width="0.80"/>
<line x1="410.28" y1="369.20" x2="410.28" y2="362.60" stroke="#262626" stroke-width="0.80"/>
<line x1="410.28" y1="318.50" x2="410.28" y2="325.10" stroke="#262626" stroke-width="0.80"/>
<line x1="474.60" y1="369.20" x2="474.60" y2="362.60" stroke="#262626" stroke-width="0.80"/>
<line x1="474.60" y1="318.50" x2="474.60" y2="325.10" stroke="#262626" stroke-width="0.80"/>
<line x1="538.92" y1="369.20" x2="538.92" y2="362.60" stroke="#262626" stroke-width="0.80"/>
<line x1="538.92" y1="318.50" x2="538.92" y2="325.10" stroke="#262626" stroke-width="0.80"/>
<line x1="603.24" y1="369.20" x2="603.24" y2="362.60" stroke="#262626" stroke-width="0.80"/>
<line x1="603.24" y1="318.50" x2="603.24" y2="325.10" stroke="#262626" stroke-width="0.80"/>
<line x1="667.56" y1="369.20" x2="667.56" y2="362.60" stroke="#262626" stroke-width="0.80"/>
<line x1="667.56" y1="318.50" x2="667.56" y2="325.10" stroke="#262626" stroke-width="0.80"/>
<line x1="25.00" y1="318.50" x2="31.60" y2="318.50" stroke="#262626" stroke-width="0.80"/>
<line x1="683.00" y1="318.50" x2="676.40" y2="318.50" stroke="#262626" stroke-width="0.80"/>
<line x1="25.00" y1="343.60" x2="31.60" y2="343.60" stroke="#262626" stroke-width="0.80"/>
<line x1="683.00" y1="343.60" x2="676.40" y2="343.60" stroke="#262626" stroke-width="0.80"/>
<line x1="25.00" y1="369.20" x2="31.60" y2="369.20" stroke="#262626" stroke-width="0.80"/>
<line x1="683.00" y1="369.20" x2="676.40" y2="369.20" stroke="#262626" stroke-width="0.80"/>
</g>
<g>
<line x1="25.00" y1="445.55" x2="684.30" y2="445.55" stroke="#262626" stroke-width="0.80"/>
<rect x="25.00" y="420.50" width="659.30" height="50.10" fill="none" stroke="#262626" stroke-width="0.80"/>
<line x1="88.80" y1="470.60" x2="88.80" y2="464.00" stroke="#262626" stroke-width="0.80"/>
<line x1="88.80" y1="420.50" x2="88.80" y2="427.10" stroke="#262626" stroke-width="0.80"/>
<line x1="153.25" y1="470.60" x2="153.25" y2="464.00" stroke="#262626" stroke-width="0.80"/>
<line x1="153.25" y1="420.50" x2="153.25" y2="427.10" stroke="#262626" stroke-width="0.80"/>
<line x1="217.70" y1="470.60" x2="217.70" y2="464.00" stroke="#262626" stroke-width="0.80"/>
<line x1="217.70" y1="420.50" x2="217.70" y2="427.10" stroke="#262626" stroke-width="0.80"/>
<line x1="282.15" y1="470.60" x2="282.15" y2="464.00" stroke="#262626" stroke-width="0.80"/>
<line x1="282.15" y1="420.50" x2="282.15" y2="427.10" stroke="#262626" stroke-width="0.80"/>
<line x1="346.59" y1="470.60" x2="346.59" y2="464.00" stroke="#262626" stroke-width="0.80"/>
<line x1="346.59" y1="420.50" x2="346.59" y2="427.10" stroke="#262626" stroke-width="0.80"/>
<line x1="411.04" y1="470.60" x2="411.04" y2="464.00" stroke="#262626" stroke-width="0.80"/>
<line x1="411.04" y1="420.50" x2="411.04" y2="427.10" stroke="#262626" stroke-width="0.80"/>
<line x1="475.49" y1="470.60" x2="475.49" y2="464.00" stroke="#262626" stroke-width="0.80"/>
<line x1="475.49" y1="420.50" x2="475.49" y2="427.10" stroke="#262626" stroke-width="0.80"/>
<line x1="539.94" y1="470.60" x2="539.94" y2="464.00" stroke="#262626" stroke-width="0.80"/>
<line x1="539.94" y1="420.50" x2="539.94" y2="427.10" stroke="#262626" stroke-width="0.80"/>
<line x1="604.38" y1="470.60" x2="604.38" y2="464.00" stroke="#262626" stroke-width="0.80"/>
<line x1="604.38" y1="420.50" x2="604.38" y2="427.10" stroke="#262626" stroke-width="0.80"/>
<line x1="668.83" y1="470.60" x2="668.83" y2="464.00" stroke="#262626" stroke-width="0.80"/>
<line x1="668.83" y1="420.50" x2="668.83" y2="427.10" stroke="#262626" stroke-width="0.80"/>
<line x1="25.00" y1="420.50" x2="31.60" y2="420.50" stroke="#262626" stroke-width="0.80"/>
<line x1="684.30" y1="420.50" x2="677.70" y2="420.50" stroke="#262626" stroke-width="0.80"/>
<line x1="25.00" y1="445.55" x2="31.60" y2="445.55" stroke="#262626" stroke-width="0.80"/>
<line x1="684.30" y1="445.55" x2="677.70" y2="445.55" stroke="#262626" stroke-width="0.80"/>
<line x1="25.00" y1="470.60" x2="31.60" y2="470.60" stroke="#262626" stroke-width="0.80"/>
<line x1="684.30" y1="470.60" x2="677.70" y2="470.60" stroke="#262626" stroke-width="0.80"/>
</g>
<g>
<rect x="25.00" y="116.30" width="658.00" height="51.20" fill="none" stroke="#262626" stroke-width="0.80"/>
<line x1="88.10" y1="167.50" x2="88.10" y2="160.90" stroke="#262626" stroke-width="0.80"/>
<line x1="88.10" y1="116.30" x2="88.10" y2="122.90" stroke="#262626" stroke-width="0.80"/>
<line x1="152.48" y1="167.50" x2="152.48" y2="160.90" stroke="#262626" stroke-width="0.80"/>
<line x1="152.48" y1="116.30" x2="152.48" y2="122.90" stroke="#262626" stroke-width="0.80"/>
<line x1="216.86" y1="167.50" x2="216.86" y2="160.90" stroke="#262626" stroke-width="0.80"/>
<line x1="216.86" y1="116.30" x2="216.86" y2="122.90" stroke="#262626" stroke-width="0.80"/>
<line x1="281.25" y1="167.50" x2="281.25" y2="160.90" stroke="#262626" stroke-width="0.80"/>
<line x1="281.25" y1="116.30" x2="281.25" y2="122.90" stroke="#262626" stroke-width="0.80"/>
<line x1="345.63" y1="167.50" x2="345.63" y2="160.90" stroke="#262626" stroke-width="0.80"/>
<line x1="345.63" y1="116.30" x2="345.63" y2="122.90" stroke="#262626" stroke-width="0.80"/>
<line x1="410.01" y1="167.50" x2="410.01" y2="160.90" stroke="#262626" stroke-width="0.80"/>
<line x1="410.01" y1="116.30" x2="410.01" y2="122.90" stroke="#262626" stroke-width="0.80"/>
<line x1="474.40" y1="167.50" x2="474.40" y2="160.90" stroke="#262626" stroke-width="0.80"/>
<line x1="474.40" y1="116.30" x2="474.40" y2="122.90" stroke="#262626" stroke-width="0.80"/>
<line x1="538.78" y1="167.50" x2="538.78" y2="160.90" stroke="#262626" stroke-width="0.80"/>
<line x1="538.78" y1="116.30" x2="538.78" y2="122.90" stroke="#262626" stroke-width="0.80"/>
<line x1="603.16" y1="167.50" x2="603.16" y2="160.90" stroke="#262626" stroke-width="0.80"/>
<line x1="603.16" y1="116.30" x2="603.16" y2="122.90" stroke="#262626" stroke-width="0.80"/>
<line x1="667.55" y1="167.50" x2="667.55" y2="160.90" stroke="#262626" stroke-width="0.80"/>
<line x1="667.55" y1="116.30" x2="667.55" y2="122.90" stroke="#262626" stroke-width="0.80"/>
<line x1="25.00" y1="124.30" x2="31.60" y2="124.30" stroke="#262626" stroke-width="0.80"/>
<line x1="683.00" y1="124.30" x2="676.40" y2="124.30" stroke="#262626" stroke-width="0.80"/>
<line x1="25.00" y1="142.20" x2="31.60" y2="142.20" stroke="#262626" stroke-width="0.80"/>
<line x1="683.00" y1="142.20" x2="676.40" y2="142.20" stroke="#262626" stroke-width="0.80"/>
<line x1="25.00" y1="159.40" x2="31.60" y2="159.40" stroke="#262626" stroke-width="0.80"/>
<line x1="683.00" y1="159.40" x2="676.40" y2="159.40" stroke="#262626" stroke-width="0.80"/>
</g>
</svg>
<div class="t" style="left:354.20px;top:-3px;font-size:13.90px">Original signal (N=1024, M=512, 70 spikes)</div>
<div class="t" style="left:353.60px;top:98px;font-size:14.00px">Measured values with SNR=40</div>
<div class="t" style="left:354.60px;top:200px;font-size:13.95px">Recovered signal by Algorithm 1.1 (13507 iterations, CPU=39.9470)</div>
<div class="t" style="left:355.15px;top:300px;font-size:13.95px">Recovered signal by Algorithm 1.2 (4079 iterations, CPU=21.8114)</div>
<div class="t" style="left:355.80px;top:402px;font-size:13.90px">Recovered signal by Algorithm 3.1 (1873 iterations, CPU=14.4815)</div>
<div class="x" style="left:89px;top:76px;transform:translate(calc(-50% + -0.47px),-0.25px) scaleY(1.07)">100</div>
<div class="x" style="left:153px;top:76px;transform:translate(calc(-50% + -0.15px),-0.25px) scaleY(1.07)">200</div>
<div class="x" style="left:217px;top:76px;transform:translate(calc(-50% + 0.17px),-0.25px) scaleY(1.07)">300</div>
<div class="x" style="left:281px;top:76px;transform:translate(calc(-50% + 0.49px),-0.25px) scaleY(1.07)">400</div>
<div class="x" style="left:346px;top:76px;transform:translate(calc(-50% + -0.19px),-0.25px) scaleY(1.07)">500</div>
<div class="x" style="left:410px;top:76px;transform:translate(calc(-50% + 0.13px),-0.25px) scaleY(1.07)">600</div>
<div class="x" style="left:474px;top:76px;transform:translate(calc(-50% + 0.45px),-0.25px) scaleY(1.07)">700</div>
<div class="x" style="left:539px;top:76px;transform:translate(calc(-50% + -0.23px),-0.25px) scaleY(1.07)">800</div>
<div class="x" style="left:603px;top:76px;transform:translate(calc(-50% + 0.09px),-0.25px) scaleY(1.07)">900</div>
<div class="x" style="left:667px;top:76px;transform:translate(calc(-50% + 0.41px),-0.25px) scaleY(1.07)">1000</div>
<div class="y" style="left:-11.7px;top:9.1px">1</div>
<div class="y" style="left:-10.7px;top:35.9px">0</div>
<div class="y" style="left:-11.7px;top:62.1px">-1</div>
<div class="x" style="left:89px;top:277px;transform:translate(calc(-50% + -0.47px),-0.35px) scaleY(1.07)">100</div>
<div class="x" style="left:153px;top:277px;transform:translate(calc(-50% + -0.15px),-0.35px) scaleY(1.07)">200</div>
<div class="x" style="left:217px;top:277px;transform:translate(calc(-50% + 0.17px),-0.35px) scaleY(1.07)">300</div>
<div class="x" style="left:281px;top:277px;transform:translate(calc(-50% + 0.49px),-0.35px) scaleY(1.07)">400</div>
<div class="x" style="left:346px;top:277px;transform:translate(calc(-50% + -0.19px),-0.35px) scaleY(1.07)">500</div>
<div class="x" style="left:410px;top:277px;transform:translate(calc(-50% + 0.13px),-0.35px) scaleY(1.07)">600</div>
<div class="x" style="left:474px;top:277px;transform:translate(calc(-50% + 0.45px),-0.35px) scaleY(1.07)">700</div>
<div class="x" style="left:539px;top:277px;transform:translate(calc(-50% + -0.23px),-0.35px) scaleY(1.07)">800</div>
<div class="x" style="left:603px;top:277px;transform:translate(calc(-50% + 0.09px),-0.35px) scaleY(1.07)">900</div>
<div class="x" style="left:667px;top:277px;transform:translate(calc(-50% + 0.41px),-0.35px) scaleY(1.07)">1000</div>
<div class="y" style="left:-11.7px;top:212.1px">1</div>
<div class="y" style="left:-10.7px;top:237.8px">0</div>
<div class="y" style="left:-11.7px;top:263.0px">-1</div>
<div class="x" style="left:89px;top:376px;transform:translate(calc(-50% + -0.47px),0.45px) scaleY(1.07)">100</div>
<div class="x" style="left:153px;top:376px;transform:translate(calc(-50% + -0.15px),0.45px) scaleY(1.07)">200</div>
<div class="x" style="left:217px;top:376px;transform:translate(calc(-50% + 0.17px),0.45px) scaleY(1.07)">300</div>
<div class="x" style="left:281px;top:376px;transform:translate(calc(-50% + 0.49px),0.45px) scaleY(1.07)">400</div>
<div class="x" style="left:346px;top:376px;transform:translate(calc(-50% + -0.19px),0.45px) scaleY(1.07)">500</div>
<div class="x" style="left:410px;top:376px;transform:translate(calc(-50% + 0.13px),0.45px) scaleY(1.07)">600</div>
<div class="x" style="left:474px;top:376px;transform:translate(calc(-50% + 0.45px),0.45px) scaleY(1.07)">700</div>
<div class="x" style="left:539px;top:376px;transform:translate(calc(-50% + -0.23px),0.45px) scaleY(1.07)">800</div>
<div class="x" style="left:603px;top:376px;transform:translate(calc(-50% + 0.09px),0.45px) scaleY(1.07)">900</div>
<div class="x" style="left:667px;top:376px;transform:translate(calc(-50% + 0.41px),0.45px) scaleY(1.07)">1000</div>
<div class="y" style="left:-11.7px;top:312.1px">1</div>
<div class="y" style="left:-10.7px;top:337.2px">0</div>
<div class="y" style="left:-11.7px;top:362.8px">-1</div>
<div class="x" style="left:89px;top:478px;transform:translate(calc(-50% + -0.35px),0.35px) scaleY(1.07)">100</div>
<div class="x" style="left:153px;top:478px;transform:translate(calc(-50% + 0.10px),0.35px) scaleY(1.07)">200</div>
<div class="x" style="left:218px;top:478px;transform:translate(calc(-50% + -0.45px),0.35px) scaleY(1.07)">300</div>
<div class="x" style="left:282px;top:478px;transform:translate(calc(-50% + -0.00px),0.35px) scaleY(1.07)">400</div>
<div class="x" style="left:346px;top:478px;transform:translate(calc(-50% + 0.44px),0.35px) scaleY(1.07)">500</div>
<div class="x" style="left:411px;top:478px;transform:translate(calc(-50% + -0.11px),0.35px) scaleY(1.07)">600</div>
<div class="x" style="left:475px;top:478px;transform:translate(calc(-50% + 0.34px),0.35px) scaleY(1.07)">700</div>
<div class="x" style="left:540px;top:478px;transform:translate(calc(-50% + -0.21px),0.35px) scaleY(1.07)">800</div>
<div class="x" style="left:604px;top:478px;transform:translate(calc(-50% + 0.23px),0.35px) scaleY(1.07)">900</div>
<div class="x" style="left:669px;top:478px;transform:translate(calc(-50% + -0.32px),0.35px) scaleY(1.07)">1000</div>
<div class="y" style="left:-11.7px;top:414.1px">1</div>
<div class="y" style="left:-10.7px;top:439.2px">0</div>
<div class="y" style="left:-11.7px;top:464.2px">-1</div>
<div class="x" style="left:88px;top:175px;transform:translate(calc(-50% + -0.05px),-0.25px) scaleY(1.07)">50</div>
<div class="x" style="left:152px;top:175px;transform:translate(calc(-50% + 0.33px),-0.25px) scaleY(1.07)">100</div>
<div class="x" style="left:217px;top:175px;transform:translate(calc(-50% + -0.29px),-0.25px) scaleY(1.07)">150</div>
<div class="x" style="left:281px;top:175px;transform:translate(calc(-50% + 0.10px),-0.25px) scaleY(1.07)">200</div>
<div class="x" style="left:345px;top:175px;transform:translate(calc(-50% + 0.48px),-0.25px) scaleY(1.07)">250</div>
<div class="x" style="left:410px;top:175px;transform:translate(calc(-50% + -0.14px),-0.25px) scaleY(1.07)">300</div>
<div class="x" style="left:474px;top:175px;transform:translate(calc(-50% + 0.25px),-0.25px) scaleY(1.07)">350</div>
<div class="x" style="left:539px;top:175px;transform:translate(calc(-50% + -0.37px),-0.25px) scaleY(1.07)">400</div>
<div class="x" style="left:603px;top:175px;transform:translate(calc(-50% + 0.01px),-0.25px) scaleY(1.07)">450</div>
<div class="x" style="left:667px;top:175px;transform:translate(calc(-50% + 0.40px),-0.25px) scaleY(1.07)">500</div>
<div class="y" style="left:-11.4px;top:117px">20</div>
<div class="y" style="left:-10.3px;top:135px">0</div>
<div class="y" style="left:-11.4px;top:153px">-20</div>
</body></html>
